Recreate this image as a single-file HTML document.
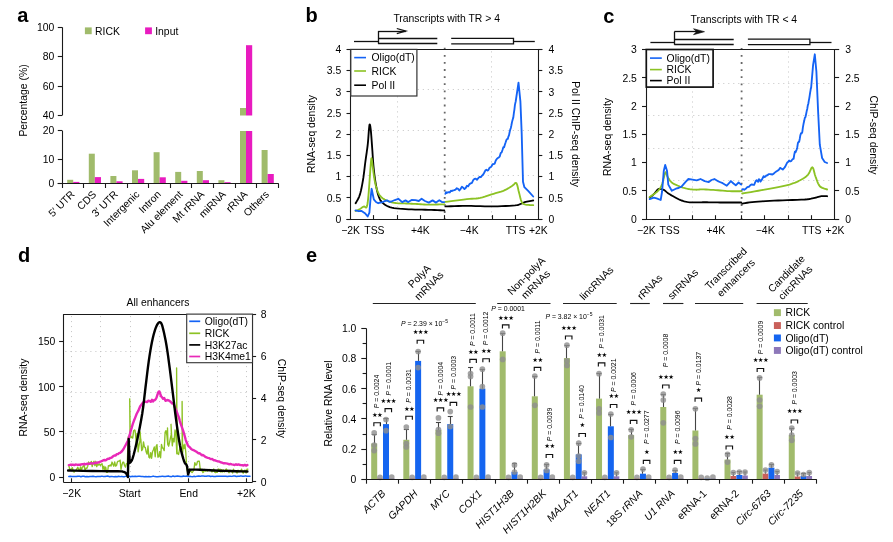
<!DOCTYPE html>
<html><head><meta charset="utf-8"><title>Figure</title>
<style>html,body{margin:0;padding:0;background:#fff;}svg{display:block;will-change:transform;}</style></head>
<body><svg width="893" height="542" viewBox="0 0 893 542" font-family="'Liberation Sans', Arial, Helvetica, sans-serif">
<rect width="893" height="542" fill="#fff"/>
<text x="17.3" y="22" font-size="20" font-weight="bold" fill="#000">a</text>
<rect x="67.2" y="179.8" width="6" height="3.6" fill="#a0bb6b"/>
<rect x="73.2" y="181.9" width="6.2" height="1.5" fill="#e81bbf"/>
<rect x="88.8" y="153.7" width="6" height="29.7" fill="#a0bb6b"/>
<rect x="94.8" y="177.1" width="6.2" height="6.3" fill="#e81bbf"/>
<rect x="110.4" y="176" width="6" height="7.4" fill="#a0bb6b"/>
<rect x="116.4" y="181.3" width="6.2" height="2.1" fill="#e81bbf"/>
<rect x="132" y="170.3" width="6" height="13.1" fill="#a0bb6b"/>
<rect x="138" y="178.9" width="6.2" height="4.5" fill="#e81bbf"/>
<rect x="153.6" y="152.2" width="6" height="31.2" fill="#a0bb6b"/>
<rect x="159.6" y="177.3" width="6.2" height="6.1" fill="#e81bbf"/>
<rect x="175.2" y="171.9" width="6" height="11.5" fill="#a0bb6b"/>
<rect x="181.2" y="180.8" width="6.2" height="2.6" fill="#e81bbf"/>
<rect x="196.8" y="171" width="6" height="12.4" fill="#a0bb6b"/>
<rect x="202.8" y="180.2" width="6.2" height="3.2" fill="#e81bbf"/>
<rect x="218.4" y="180.2" width="6" height="3.2" fill="#a0bb6b"/>
<rect x="224.4" y="182.2" width="6.2" height="1.2" fill="#e81bbf"/>
<rect x="240" y="131" width="6" height="52.4" fill="#a0bb6b"/>
<rect x="246" y="131" width="6.2" height="52.4" fill="#e81bbf"/>
<rect x="240" y="108" width="6" height="7.5" fill="#a0bb6b"/>
<rect x="246" y="45.2" width="6.2" height="70.3" fill="#e81bbf"/>
<rect x="261.6" y="150" width="6" height="33.4" fill="#a0bb6b"/>
<rect x="267.6" y="174" width="6.2" height="9.4" fill="#e81bbf"/>
<line x1="62.5" y1="27.3" x2="62.5" y2="115.3" stroke="#1a1a1a" stroke-width="1.1"/>
<line x1="62.5" y1="130.7" x2="62.5" y2="183.4" stroke="#1a1a1a" stroke-width="1.1"/>
<line x1="57.7" y1="183.5" x2="278.6" y2="183.5" stroke="#1a1a1a" stroke-width="1.1"/>
<line x1="57.8" y1="27.5" x2="62.3" y2="27.5" stroke="#1a1a1a" stroke-width="1.1"/>
<text x="54.4" y="31" font-size="10.4" text-anchor="end">100</text>
<line x1="57.8" y1="56.5" x2="62.3" y2="56.5" stroke="#1a1a1a" stroke-width="1.1"/>
<text x="54.4" y="60.3" font-size="10.4" text-anchor="end">80</text>
<line x1="57.8" y1="86.5" x2="62.3" y2="86.5" stroke="#1a1a1a" stroke-width="1.1"/>
<text x="54.4" y="89.7" font-size="10.4" text-anchor="end">60</text>
<line x1="57.8" y1="115.5" x2="62.3" y2="115.5" stroke="#1a1a1a" stroke-width="1.1"/>
<text x="54.4" y="119" font-size="10.4" text-anchor="end">40</text>
<line x1="57.8" y1="130.5" x2="62.3" y2="130.5" stroke="#1a1a1a" stroke-width="1.1"/>
<text x="54.4" y="134.4" font-size="10.4" text-anchor="end">20</text>
<line x1="57.8" y1="159.5" x2="62.3" y2="159.5" stroke="#1a1a1a" stroke-width="1.1"/>
<text x="54.4" y="162.9" font-size="10.4" text-anchor="end">10</text>
<line x1="57.8" y1="183.5" x2="62.3" y2="183.5" stroke="#1a1a1a" stroke-width="1.1"/>
<text x="54.4" y="187.1" font-size="10.4" text-anchor="end">0</text>
<line x1="62.5" y1="183.4" x2="62.5" y2="188" stroke="#1a1a1a" stroke-width="1.1"/>
<line x1="83.5" y1="183.4" x2="83.5" y2="188" stroke="#1a1a1a" stroke-width="1.1"/>
<line x1="105.5" y1="183.4" x2="105.5" y2="188" stroke="#1a1a1a" stroke-width="1.1"/>
<line x1="127.5" y1="183.4" x2="127.5" y2="188" stroke="#1a1a1a" stroke-width="1.1"/>
<line x1="148.5" y1="183.4" x2="148.5" y2="188" stroke="#1a1a1a" stroke-width="1.1"/>
<line x1="170.5" y1="183.4" x2="170.5" y2="188" stroke="#1a1a1a" stroke-width="1.1"/>
<line x1="191.5" y1="183.4" x2="191.5" y2="188" stroke="#1a1a1a" stroke-width="1.1"/>
<line x1="213.5" y1="183.4" x2="213.5" y2="188" stroke="#1a1a1a" stroke-width="1.1"/>
<line x1="235.5" y1="183.4" x2="235.5" y2="188" stroke="#1a1a1a" stroke-width="1.1"/>
<line x1="256.5" y1="183.4" x2="256.5" y2="188" stroke="#1a1a1a" stroke-width="1.1"/>
<line x1="278.5" y1="183.4" x2="278.5" y2="188" stroke="#1a1a1a" stroke-width="1.1"/>
<rect x="84.9" y="27.4" width="6.8" height="6.8" fill="#a0bb6b"/>
<text x="95" y="34.6" font-size="10.4">RICK</text>
<rect x="145.1" y="27.4" width="6.8" height="6.8" fill="#e81bbf"/>
<text x="155.2" y="34.6" font-size="10.4">Input</text>
<text x="27" y="100.5" font-size="10.4" text-anchor="middle" transform="rotate(-90 27 100.5)">Percentage (%)</text>
<text x="75.3" y="195" font-size="10.4" text-anchor="end" transform="rotate(-45 75.3 195)">5′ UTR</text>
<text x="96.9" y="195" font-size="10.4" text-anchor="end" transform="rotate(-45 96.9 195)">CDS</text>
<text x="118.5" y="195" font-size="10.4" text-anchor="end" transform="rotate(-45 118.5 195)">3′ UTR</text>
<text x="140.1" y="195" font-size="10.4" text-anchor="end" transform="rotate(-45 140.1 195)">Intergenic</text>
<text x="161.7" y="195" font-size="10.4" text-anchor="end" transform="rotate(-45 161.7 195)">Intron</text>
<text x="183.3" y="195" font-size="10.4" text-anchor="end" transform="rotate(-45 183.3 195)">Alu element</text>
<text x="204.9" y="195" font-size="10.4" text-anchor="end" transform="rotate(-45 204.9 195)">Mt rRNA</text>
<text x="226.5" y="195" font-size="10.4" text-anchor="end" transform="rotate(-45 226.5 195)">miRNA</text>
<text x="248.1" y="195" font-size="10.4" text-anchor="end" transform="rotate(-45 248.1 195)">rRNA</text>
<text x="269.7" y="195" font-size="10.4" text-anchor="end" transform="rotate(-45 269.7 195)">Others</text>
<text x="305.6" y="21.8" font-size="20" font-weight="bold" fill="#000">b</text>
<line x1="352.8" y1="89.5" x2="536" y2="89.5" stroke="#c4c4c4" stroke-width="1" stroke-dasharray="1,4"/>
<line x1="352.8" y1="130.5" x2="536" y2="130.5" stroke="#c4c4c4" stroke-width="1" stroke-dasharray="1,4"/>
<line x1="352.8" y1="175.5" x2="536" y2="175.5" stroke="#c4c4c4" stroke-width="1" stroke-dasharray="1,4"/>
<line x1="397.5" y1="51.4" x2="397.5" y2="217.1" stroke="#c4c4c4" stroke-width="1" stroke-dasharray="1,4"/>
<line x1="491.5" y1="51.4" x2="491.5" y2="217.1" stroke="#c4c4c4" stroke-width="1" stroke-dasharray="1,4"/>
<line x1="444.7" y1="47.8" x2="444.7" y2="219.1" stroke="#666" stroke-width="1.8" stroke-dasharray="1.8,5.3"/>
<polyline points="355.6,203.3 356.07,202.46 356.73,201.36 357.5,200.03 358.32,198.49 359.11,196.77 359.8,194.9 360.4,192.82 360.98,190.49 361.52,187.99 362.04,185.36 362.54,182.68 363,180 363.44,177.19 363.84,174.17 364.23,171.1 364.58,168.11 364.9,165.37 365.2,163 365.45,161.13 365.66,159.65 365.84,158.41 366.01,157.24 366.19,155.99 366.4,154.5 366.64,152.79 366.89,150.98 367.16,149.09 367.42,147.13 367.67,145.1 367.9,143 368.11,140.7 368.31,138.17 368.49,135.57 368.67,133.06 368.84,130.82 369,129 369.15,127.56 369.28,126.35 369.4,125.4 369.52,124.74 369.65,124.4 369.8,124.4 369.96,124.76 370.14,125.44 370.32,126.45 370.51,127.76 370.7,129.34 370.9,131.2 371.1,133.42 371.31,136.03 371.53,138.93 371.75,142 371.98,145.13 372.2,148.2 372.42,151.29 372.63,154.49 372.84,157.76 373.07,161.02 373.32,164.22 373.6,167.3 373.91,170.29 374.24,173.25 374.59,176.14 374.97,178.95 375.37,181.65 375.8,184.2 376.25,186.65 376.72,189.01 377.22,191.26 377.74,193.37 378.3,195.29 378.9,197 379.5,198.45 380.09,199.66 380.71,200.68 381.41,201.59 382.23,202.44 383.2,203.3 384.28,204.16 385.41,204.98 386.66,205.74 388.09,206.43 389.75,207.06 391.7,207.6 394,208.05 396.61,208.4 399.46,208.69 402.46,208.92 405.53,209.12 408.6,209.3 411.75,209.45 415.06,209.55 418.45,209.62 421.83,209.67 425.1,209.72 428.2,209.8 431.27,209.9 434.42,210.01 437.47,210.13 440.26,210.24 442.59,210.33 444.3,210.4" fill="none" stroke="#000" stroke-width="1.85" stroke-linejoin="round" stroke-linecap="round" />
<polyline points="445.4,206.4 447.67,206.33 450.75,206.23 454.43,206.12 458.47,206.01 462.67,205.93 466.8,205.9 471.02,205.94 475.53,206.05 480.2,206.18 484.87,206.31 489.38,206.39 493.6,206.4 497.66,206.32 501.73,206.19 505.64,206.02 509.25,205.82 512.42,205.61 515,205.4 516.83,205.2 517.99,204.99 518.71,204.77 519.2,204.53 519.69,204.28 520.4,204 521.26,203.68 522.09,203.33 522.92,202.95 523.77,202.57 524.69,202.22 525.7,201.9 526.91,201.61 528.31,201.33 529.78,201.07 531.17,200.84 532.36,200.64 533.2,200.5" fill="none" stroke="#000" stroke-width="1.85" stroke-linejoin="round" stroke-linecap="round" />
<polyline points="355.5,211 356,210.79 356.69,210.5 357.51,210.16 358.39,209.78 359.24,209.39 360,209 360.69,208.58 361.36,208.09 362.01,207.59 362.63,207.12 363.23,206.74 363.8,206.5 364.34,206.53 364.85,206.82 365.34,207.2 365.79,207.49 366.21,207.51 366.6,207.1 366.93,206.32 367.22,205.33 367.47,204.07 367.7,202.5 367.94,200.56 368.2,198.2 368.49,195.15 368.79,191.4 369.1,187.29 369.4,183.14 369.67,179.3 369.9,176.1 370.09,173.56 370.23,171.43 370.36,169.59 370.47,167.97 370.58,166.47 370.7,165 370.83,163.46 370.96,161.91 371.09,160.48 371.22,159.3 371.36,158.5 371.5,158.2 371.64,158.43 371.77,159.1 371.9,160.14 372.06,161.5 372.25,163.14 372.5,165 372.81,167.26 373.16,170.01 373.56,173.03 373.98,176.11 374.43,179.04 374.9,181.6 375.39,183.83 375.89,185.91 376.42,187.84 376.99,189.62 377.58,191.24 378.2,192.7 378.84,193.97 379.5,195.03 380.19,195.94 380.92,196.74 381.72,197.48 382.6,198.2 383.57,198.9 384.63,199.52 385.74,200.09 386.91,200.6 388.1,201.07 389.3,201.5 390.51,201.89 391.74,202.24 393,202.54 394.29,202.8 395.62,203.02 397,203.2 398.41,203.33 399.86,203.4 401.34,203.42 402.87,203.44 404.46,203.45 406.1,203.5 407.82,203.57 409.62,203.65 411.48,203.73 413.36,203.82 415.24,203.91 417.1,204 418.89,204.1 420.61,204.23 422.33,204.35 424.13,204.46 426.06,204.55 428.2,204.6 430.78,204.6 433.79,204.56 436.94,204.49 439.94,204.41 442.49,204.34 444.3,204.3" fill="none" stroke="#8cc224" stroke-width="1.85" stroke-linejoin="round" stroke-linecap="round" />
<polyline points="445.4,201.9 447.82,201.59 451.24,201.15 455.26,200.63 459.47,200.1 463.45,199.6 466.8,199.2 469.5,198.93 471.86,198.77 474,198.64 476.03,198.49 478.06,198.26 480.2,197.9 482.46,197.37 484.77,196.71 487.07,195.98 489.33,195.22 491.52,194.48 493.6,193.8 495.57,193.21 497.47,192.66 499.29,192.13 501.03,191.6 502.7,191.03 504.3,190.4 505.84,189.68 507.31,188.89 508.72,188.06 510.03,187.24 511.23,186.47 512.3,185.8 513.21,185.1 513.98,184.31 514.63,183.58 515.21,183.03 515.75,182.83 516.3,183.1 516.83,183.97 517.3,185.34 517.73,187.04 518.15,188.92 518.57,190.79 519,192.5 519.43,194.14 519.85,195.88 520.27,197.62 520.7,199.26 521.17,200.72 521.7,201.9 522.25,202.76 522.81,203.38 523.4,203.81 524.06,204.11 524.82,204.35 525.7,204.6 526.83,204.82 528.22,204.95 529.7,205.02 531.13,205.05 532.34,205.07 533.2,205.1" fill="none" stroke="#8cc224" stroke-width="1.85" stroke-linejoin="round" stroke-linecap="round" />
<polyline points="355.5,210.4 358.5,211.2 361.6,211 364.9,213.2 367.7,216.5 369.4,212.6 370.6,198 371.6,188.8 372.7,194 373.8,199.3 376,202 378.2,203.2 380.4,202.5 382.6,202.1 385,201 387.1,200.4 389.3,201.8 391.5,201.5 394.8,200 398.3,198.8 402.2,202.1 405.5,200.4 408.3,202.1 411.6,199.9 415.5,200.2 418.8,201 421.6,198.8 424.9,201 428.8,202.6 432.6,200.4 436,202.6 439.3,200.2 442,202.1 444.3,202.1" fill="none" stroke="#1463f5" stroke-width="1.85" stroke-linejoin="round" stroke-linecap="round" />
<polyline points="445.4,193.8 445.99,192.14 446.75,193.07 447.66,192.34 448.67,192.07 449.77,192.45 450.91,190.77 452.07,191.06 453.2,190.39 454.34,190.06 455.55,189.54 456.79,188.27 458.06,188.9 459.35,190.5 460.65,188.83 461.93,186.8 463.2,187.7 464.45,189.05 465.7,188.01 466.95,185.77 468.2,186.31 469.45,184.1 470.7,183.43 471.95,182.89 473.2,180.17 474.46,178.89 475.74,178.57 477.02,179.75 478.31,178.2 479.57,176.94 480.82,177.22 482.03,175.61 483.2,174.53 484.32,172.51 485.39,170.31 486.44,169.77 487.46,170.6 488.46,169.97 489.46,167.9 490.47,167.31 491.5,166.37 492.55,164.28 493.61,164.07 494.69,163.61 495.76,160.52 496.81,158.9 497.84,158.06 498.84,157.47 499.8,156.35 500.72,153.07 501.61,152.52 502.47,150.02 503.31,147.15 504.12,147.29 504.9,144.57 505.66,142.32 506.4,139.95 507.11,138.89 507.78,138.88 508.42,136.6 509.04,135.07 509.65,132.03 510.24,129.63 510.82,128 511.4,125.28 512,122.12 512.62,119.84 513.25,117.76 513.86,113.15 514.43,109.27 514.94,104.9 515.37,102.86 515.7,101.5 518.5,82.7 520.4,101.4 521.7,133.6 523,181.8 524.4,187.2 528.4,191.2 533.2,196.5" fill="none" stroke="#1463f5" stroke-width="1.85" stroke-linejoin="round" stroke-linecap="round" />
<line x1="350.8" y1="49.5" x2="542.3" y2="49.5" stroke="#1a1a1a" stroke-width="1.1"/>
<line x1="350.5" y1="49.4" x2="350.5" y2="219.1" stroke="#1a1a1a" stroke-width="1.1"/>
<line x1="538.5" y1="49.4" x2="538.5" y2="219.1" stroke="#1a1a1a" stroke-width="1.1"/>
<line x1="346.5" y1="219.5" x2="542.3" y2="219.5" stroke="#1a1a1a" stroke-width="1.1"/>
<line x1="346.5" y1="219.5" x2="350.8" y2="219.5" stroke="#1a1a1a" stroke-width="1.1"/>
<line x1="538" y1="219.5" x2="542.3" y2="219.5" stroke="#1a1a1a" stroke-width="1.1"/>
<text x="341.2" y="222.8" font-size="10.4" text-anchor="end">0</text>
<text x="548.6" y="222.8" font-size="10.4">0</text>
<line x1="346.5" y1="197.5" x2="350.8" y2="197.5" stroke="#1a1a1a" stroke-width="1.1"/>
<line x1="538" y1="197.5" x2="542.3" y2="197.5" stroke="#1a1a1a" stroke-width="1.1"/>
<text x="341.2" y="201.58" font-size="10.4" text-anchor="end">0.5</text>
<text x="548.6" y="201.58" font-size="10.4">0.5</text>
<line x1="346.5" y1="176.5" x2="350.8" y2="176.5" stroke="#1a1a1a" stroke-width="1.1"/>
<line x1="538" y1="176.5" x2="542.3" y2="176.5" stroke="#1a1a1a" stroke-width="1.1"/>
<text x="341.2" y="180.37" font-size="10.4" text-anchor="end">1</text>
<text x="548.6" y="180.37" font-size="10.4">1</text>
<line x1="346.5" y1="155.5" x2="350.8" y2="155.5" stroke="#1a1a1a" stroke-width="1.1"/>
<line x1="538" y1="155.5" x2="542.3" y2="155.5" stroke="#1a1a1a" stroke-width="1.1"/>
<text x="341.2" y="159.15" font-size="10.4" text-anchor="end">1.5</text>
<text x="548.6" y="159.15" font-size="10.4">1.5</text>
<line x1="346.5" y1="134.5" x2="350.8" y2="134.5" stroke="#1a1a1a" stroke-width="1.1"/>
<line x1="538" y1="134.5" x2="542.3" y2="134.5" stroke="#1a1a1a" stroke-width="1.1"/>
<text x="341.2" y="137.94" font-size="10.4" text-anchor="end">2</text>
<text x="548.6" y="137.94" font-size="10.4">2</text>
<line x1="346.5" y1="113.5" x2="350.8" y2="113.5" stroke="#1a1a1a" stroke-width="1.1"/>
<line x1="538" y1="113.5" x2="542.3" y2="113.5" stroke="#1a1a1a" stroke-width="1.1"/>
<text x="341.2" y="116.72" font-size="10.4" text-anchor="end">2.5</text>
<text x="548.6" y="116.72" font-size="10.4">2.5</text>
<line x1="346.5" y1="91.5" x2="350.8" y2="91.5" stroke="#1a1a1a" stroke-width="1.1"/>
<line x1="538" y1="91.5" x2="542.3" y2="91.5" stroke="#1a1a1a" stroke-width="1.1"/>
<text x="341.2" y="95.51" font-size="10.4" text-anchor="end">3</text>
<text x="548.6" y="95.51" font-size="10.4">3</text>
<line x1="346.5" y1="70.5" x2="350.8" y2="70.5" stroke="#1a1a1a" stroke-width="1.1"/>
<line x1="538" y1="70.5" x2="542.3" y2="70.5" stroke="#1a1a1a" stroke-width="1.1"/>
<text x="341.2" y="74.3" font-size="10.4" text-anchor="end">3.5</text>
<text x="548.6" y="74.3" font-size="10.4">3.5</text>
<line x1="346.5" y1="49.5" x2="350.8" y2="49.5" stroke="#1a1a1a" stroke-width="1.1"/>
<line x1="538" y1="49.5" x2="542.3" y2="49.5" stroke="#1a1a1a" stroke-width="1.1"/>
<text x="341.2" y="53.08" font-size="10.4" text-anchor="end">4</text>
<text x="548.6" y="53.08" font-size="10.4">4</text>
<line x1="373.5" y1="219.1" x2="373.5" y2="215.1" stroke="#1a1a1a" stroke-width="1.1"/>
<line x1="397.5" y1="219.1" x2="397.5" y2="215.1" stroke="#1a1a1a" stroke-width="1.1"/>
<line x1="420.5" y1="219.1" x2="420.5" y2="215.1" stroke="#1a1a1a" stroke-width="1.1"/>
<line x1="444.5" y1="219.1" x2="444.5" y2="215.1" stroke="#1a1a1a" stroke-width="1.1"/>
<line x1="468.5" y1="219.1" x2="468.5" y2="215.1" stroke="#1a1a1a" stroke-width="1.1"/>
<line x1="492.5" y1="219.1" x2="492.5" y2="215.1" stroke="#1a1a1a" stroke-width="1.1"/>
<line x1="515.5" y1="219.1" x2="515.5" y2="215.1" stroke="#1a1a1a" stroke-width="1.1"/>
<text x="350.6" y="233.9" font-size="10.4" text-anchor="middle">−2K</text>
<text x="374.4" y="233.9" font-size="10.4" text-anchor="middle">TSS</text>
<text x="420.4" y="233.9" font-size="10.4" text-anchor="middle">+4K</text>
<text x="469.2" y="233.9" font-size="10.4" text-anchor="middle">−4K</text>
<text x="515.6" y="233.9" font-size="10.4" text-anchor="middle">TTS</text>
<text x="538.3" y="233.9" font-size="10.4" text-anchor="middle">+2K</text>
<rect x="350.8" y="49.4" width="66.1" height="46.6" fill="#fff" stroke="#333" stroke-width="1.2"/>
<line x1="354.2" y1="57.6" x2="366" y2="57.6" stroke="#1463f5" stroke-width="1.6"/>
<text x="371.5" y="61.3" font-size="10.4">Oligo(dT)</text>
<line x1="354.2" y1="71" x2="366" y2="71" stroke="#8cc224" stroke-width="1.6"/>
<text x="371.5" y="74.7" font-size="10.4">RICK</text>
<line x1="354.2" y1="85.2" x2="366" y2="85.2" stroke="#000" stroke-width="1.6"/>
<text x="371.5" y="88.9" font-size="10.4">Pol II</text>
<line x1="354" y1="41.5" x2="378.1" y2="41.5" stroke="#111" stroke-width="1.3"/>
<line x1="378.5" y1="31.1" x2="378.5" y2="43.8" stroke="#111" stroke-width="1.3"/>
<line x1="378.1" y1="38.5" x2="437.3" y2="38.5" stroke="#111" stroke-width="1.3"/>
<line x1="378.1" y1="43.5" x2="437.3" y2="43.5" stroke="#111" stroke-width="1.3"/>
<line x1="378.1" y1="31.5" x2="405.8" y2="31.5" stroke="#111" stroke-width="1.3"/>
<path d="M396.8,28.5 L405.8,31.1 L396.8,33.7" fill="none" stroke="#111" stroke-width="1.3" />
<path d="M451.2,38.4 L513.5,38.4 L513.5,43.8 L451.2,43.8" fill="none" stroke="#111" stroke-width="1.3" />
<line x1="513.5" y1="41.5" x2="534.8" y2="41.5" stroke="#111" stroke-width="1.3"/>
<text x="393.4" y="22.4" font-size="10.4">Transcripts with TR &gt; 4</text>
<text x="314.5" y="134" font-size="10.4" text-anchor="middle" transform="rotate(-90 314.5 134)">RNA-seq density</text>
<text x="572" y="134" font-size="10.4" text-anchor="middle" transform="rotate(90 572 134)">Pol II ChIP-seq density</text>
<text x="603.3" y="22.8" font-size="20" font-weight="bold" fill="#000">c</text>
<line x1="648.3" y1="83.5" x2="832.8" y2="83.5" stroke="#c4c4c4" stroke-width="1" stroke-dasharray="1,4"/>
<line x1="648.3" y1="115.5" x2="832.8" y2="115.5" stroke="#c4c4c4" stroke-width="1" stroke-dasharray="1,4"/>
<line x1="648.3" y1="148.5" x2="832.8" y2="148.5" stroke="#c4c4c4" stroke-width="1" stroke-dasharray="1,4"/>
<line x1="648.3" y1="180.5" x2="832.8" y2="180.5" stroke="#c4c4c4" stroke-width="1" stroke-dasharray="1,4"/>
<line x1="692.5" y1="51.5" x2="692.5" y2="217.2" stroke="#c4c4c4" stroke-width="1" stroke-dasharray="1,4"/>
<line x1="788.5" y1="51.5" x2="788.5" y2="217.2" stroke="#c4c4c4" stroke-width="1" stroke-dasharray="1,4"/>
<line x1="741.6" y1="47.9" x2="741.6" y2="219.2" stroke="#666" stroke-width="1.8" stroke-dasharray="1.8,5.3"/>
<polyline points="649.7,197.7 650.14,197.33 650.76,196.84 651.49,196.25 652.27,195.59 653.06,194.9 653.8,194.2 654.51,193.42 655.25,192.53 655.99,191.61 656.71,190.72 657.39,189.96 658,189.4 658.53,189.06 658.98,188.89 659.39,188.83 659.8,188.86 660.22,188.93 660.7,189 661.24,189.08 661.81,189.19 662.4,189.35 663,189.55 663.61,189.8 664.2,190.1 664.76,190.46 665.29,190.89 665.83,191.36 666.39,191.86 667,192.38 667.7,192.9 668.47,193.42 669.28,193.96 670.15,194.51 671.09,195.09 672.1,195.68 673.2,196.3 674.42,196.98 675.76,197.73 677.18,198.5 678.63,199.25 680.08,199.93 681.5,200.5 682.86,200.96 684.2,201.34 685.53,201.66 686.89,201.92 688.31,202.13 689.8,202.3 691.41,202.4 693.11,202.43 694.87,202.41 696.63,202.37 698.36,202.32 700,202.3 701.49,202.3 702.85,202.29 704.17,202.29 705.54,202.29 707.05,202.29 708.8,202.3 710.77,202.32 712.89,202.36 715.14,202.4 717.54,202.44 720.06,202.48 722.7,202.5 725.73,202.51 729.21,202.51 732.82,202.51 736.23,202.51 739.13,202.5 741.2,202.5" fill="none" stroke="#000" stroke-width="1.85" stroke-linejoin="round" stroke-linecap="round" />
<polyline points="742.2,203.6 743.47,203.4 745.13,203.11 747.15,202.78 749.49,202.43 752.12,202.09 755,201.8 758.23,201.55 761.84,201.32 765.74,201.1 769.83,200.89 774.02,200.69 778.2,200.5 782.63,200.32 787.43,200.17 792.33,200.03 797.04,199.87 801.29,199.7 804.8,199.5 807.47,199.26 809.49,198.98 811.05,198.69 812.33,198.39 813.52,198.09 814.8,197.8 816.11,197.51 817.29,197.2 818.37,196.89 819.39,196.61 820.39,196.37 821.4,196.2 822.47,196.11 823.58,196.08 824.66,196.1 825.66,196.14 826.49,196.18 827.1,196.2" fill="none" stroke="#000" stroke-width="1.85" stroke-linejoin="round" stroke-linecap="round" />
<polyline points="649.7,197 650.14,196.7 650.76,196.3 651.49,195.81 652.27,195.28 653.06,194.73 653.8,194.2 654.5,193.68 655.22,193.16 655.94,192.62 656.66,192.06 657.35,191.45 658,190.8 658.63,190.11 659.24,189.39 659.83,188.63 660.39,187.81 660.92,186.94 661.4,186 661.83,184.96 662.2,183.83 662.53,182.63 662.85,181.41 663.17,180.19 663.5,179 663.85,177.71 664.2,176.26 664.55,174.81 664.9,173.52 665.25,172.57 665.6,172.1 665.93,172.23 666.23,172.84 666.53,173.77 666.85,174.89 667.23,176.01 667.7,177 668.24,177.91 668.81,178.86 669.45,179.84 670.15,180.79 670.93,181.69 671.8,182.5 672.77,183.21 673.84,183.84 674.99,184.42 676.19,184.97 677.44,185.49 678.7,186 680,186.52 681.36,187.02 682.76,187.51 684.18,187.96 685.6,188.36 687,188.7 688.4,188.98 689.83,189.21 691.26,189.39 692.66,189.53 694.02,189.63 695.3,189.7 696.42,189.71 697.36,189.66 698.26,189.57 699.23,189.47 700.4,189.41 701.9,189.4 703.78,189.45 705.96,189.54 708.34,189.66 710.83,189.8 713.31,189.95 715.7,190.1 718.04,190.27 720.41,190.48 722.79,190.69 725.13,190.9 727.42,191.08 729.6,191.2 731.8,191.26 734.07,191.28 736.27,191.27 738.28,191.24 739.96,191.21 741.2,191.2" fill="none" stroke="#8cc224" stroke-width="1.85" stroke-linejoin="round" stroke-linecap="round" />
<polyline points="742.2,193.5 744.34,193.14 747.33,192.63 750.86,192.04 754.62,191.4 758.3,190.77 761.6,190.2 764.57,189.69 767.46,189.19 770.28,188.7 773.01,188.21 775.66,187.71 778.2,187.2 780.65,186.68 783,186.16 785.26,185.64 787.43,185.09 789.51,184.52 791.5,183.9 793.4,183.24 795.2,182.53 796.92,181.8 798.54,181.04 800.07,180.28 801.5,179.5 802.82,178.74 804.04,177.99 805.16,177.23 806.2,176.43 807.17,175.56 808.1,174.6 808.96,173.33 809.75,171.74 810.48,170.09 811.15,168.62 811.79,167.61 812.4,167.3 812.96,167.83 813.44,169.03 813.89,170.67 814.34,172.55 814.83,174.47 815.4,176.2 816.02,177.88 816.66,179.7 817.33,181.55 818.07,183.32 818.88,184.91 819.8,186.2 820.93,187.18 822.29,187.92 823.72,188.47 825.1,188.89 826.27,189.22 827.1,189.5" fill="none" stroke="#8cc224" stroke-width="1.85" stroke-linejoin="round" stroke-linecap="round" />
<polyline points="649.7,199.1 653.8,197.7 656.6,198.4 660.7,200 662.1,191.5 663.8,170.7 665.2,164.9 667,170.7 668.3,184.6 671.8,190.8 675.9,188.7 678.5,188 681.5,186.6 685.6,181.8 688.4,179 692.5,179.7 696.7,180.4 700.5,179 704.7,181.1 708.8,182.1 711.5,180 714.4,179 718.5,181.5 722.7,183.2 726.8,185.7 730.9,181.1 733.5,183.5 735.8,185.3 738.6,182.5 741.2,184.6" fill="none" stroke="#1463f5" stroke-width="1.85" stroke-linejoin="round" stroke-linecap="round" />
<polyline points="742.2,189.4 743.07,189.07 744.26,189.85 745.68,188.78 747.24,187.15 748.85,186.76 750.42,185.06 751.87,184.35 753.1,184.8 754.13,184.91 755.05,182.63 755.89,180.92 756.66,180.14 757.41,181.06 758.14,181.81 758.9,179.13 759.7,179.81 760.51,181.58 761.29,180.38 762.06,179.34 762.84,177.77 763.65,176.11 764.5,177.01 765.41,176.55 766.4,175.38 767.48,175.26 768.65,174.1 769.87,174.09 771.14,174.23 772.44,174.48 773.74,173.63 775.04,172.37 776.3,171.43 777.57,170.75 778.87,169.71 780.19,167.88 781.51,168.67 782.79,169.49 784.04,168.2 785.21,166.62 786.3,164.36 787.3,162.43 788.23,161.71 789.09,160.57 789.91,161.38 790.69,161.25 791.44,160.85 792.17,159.62 792.9,159.04 793.6,158.74 794.26,154.58 794.89,151.59 795.5,152.38 796.1,150.98 796.69,149.56 797.29,147.22 797.9,143.04 798.53,141.98 799.15,141.78 799.78,138.71 800.41,134.98 801.03,133.18 801.66,133.4 802.28,132.05 802.9,127.41 803.53,123.81 804.17,121.06 804.82,117.86 805.46,117.08 806.08,114.22 806.69,111.08 807.26,108.96 807.8,105.39 808.31,103.77 808.81,100.66 809.3,98.05 809.76,95.15 810.17,92.36 810.54,90.31 810.86,88.16 811.1,88.1 813.1,64.9 814.8,54.3 816.4,71.6 818.1,111.4 819.8,144.7 822.1,158 824.7,162 827.1,163" fill="none" stroke="#1463f5" stroke-width="1.85" stroke-linejoin="round" stroke-linecap="round" />
<line x1="646.3" y1="49.5" x2="839.1" y2="49.5" stroke="#1a1a1a" stroke-width="1.1"/>
<line x1="646.5" y1="49.5" x2="646.5" y2="219.2" stroke="#1a1a1a" stroke-width="1.1"/>
<line x1="834.5" y1="49.5" x2="834.5" y2="219.2" stroke="#1a1a1a" stroke-width="1.1"/>
<line x1="642" y1="219.5" x2="839.1" y2="219.5" stroke="#1a1a1a" stroke-width="1.1"/>
<line x1="642" y1="219.5" x2="646.3" y2="219.5" stroke="#1a1a1a" stroke-width="1.1"/>
<line x1="834.8" y1="219.5" x2="839.1" y2="219.5" stroke="#1a1a1a" stroke-width="1.1"/>
<text x="636.9" y="222.9" font-size="10.4" text-anchor="end">0</text>
<text x="845.2" y="222.9" font-size="10.4">0</text>
<line x1="642" y1="190.5" x2="646.3" y2="190.5" stroke="#1a1a1a" stroke-width="1.1"/>
<line x1="834.8" y1="190.5" x2="839.1" y2="190.5" stroke="#1a1a1a" stroke-width="1.1"/>
<text x="636.9" y="194.65" font-size="10.4" text-anchor="end">0.5</text>
<text x="845.2" y="194.65" font-size="10.4">0.5</text>
<line x1="642" y1="162.5" x2="646.3" y2="162.5" stroke="#1a1a1a" stroke-width="1.1"/>
<line x1="834.8" y1="162.5" x2="839.1" y2="162.5" stroke="#1a1a1a" stroke-width="1.1"/>
<text x="636.9" y="166.4" font-size="10.4" text-anchor="end">1</text>
<text x="845.2" y="166.4" font-size="10.4">1</text>
<line x1="642" y1="134.5" x2="646.3" y2="134.5" stroke="#1a1a1a" stroke-width="1.1"/>
<line x1="834.8" y1="134.5" x2="839.1" y2="134.5" stroke="#1a1a1a" stroke-width="1.1"/>
<text x="636.9" y="138.15" font-size="10.4" text-anchor="end">1.5</text>
<text x="845.2" y="138.15" font-size="10.4">1.5</text>
<line x1="642" y1="106.5" x2="646.3" y2="106.5" stroke="#1a1a1a" stroke-width="1.1"/>
<line x1="834.8" y1="106.5" x2="839.1" y2="106.5" stroke="#1a1a1a" stroke-width="1.1"/>
<text x="636.9" y="109.9" font-size="10.4" text-anchor="end">2</text>
<text x="845.2" y="109.9" font-size="10.4">2</text>
<line x1="642" y1="77.5" x2="646.3" y2="77.5" stroke="#1a1a1a" stroke-width="1.1"/>
<line x1="834.8" y1="77.5" x2="839.1" y2="77.5" stroke="#1a1a1a" stroke-width="1.1"/>
<text x="636.9" y="81.65" font-size="10.4" text-anchor="end">2.5</text>
<text x="845.2" y="81.65" font-size="10.4">2.5</text>
<line x1="642" y1="49.5" x2="646.3" y2="49.5" stroke="#1a1a1a" stroke-width="1.1"/>
<line x1="834.8" y1="49.5" x2="839.1" y2="49.5" stroke="#1a1a1a" stroke-width="1.1"/>
<text x="636.9" y="53.4" font-size="10.4" text-anchor="end">3</text>
<text x="845.2" y="53.4" font-size="10.4">3</text>
<line x1="669.5" y1="219.2" x2="669.5" y2="215.2" stroke="#1a1a1a" stroke-width="1.1"/>
<line x1="692.5" y1="219.2" x2="692.5" y2="215.2" stroke="#1a1a1a" stroke-width="1.1"/>
<line x1="715.5" y1="219.2" x2="715.5" y2="215.2" stroke="#1a1a1a" stroke-width="1.1"/>
<line x1="741.5" y1="219.2" x2="741.5" y2="215.2" stroke="#1a1a1a" stroke-width="1.1"/>
<line x1="764.5" y1="219.2" x2="764.5" y2="215.2" stroke="#1a1a1a" stroke-width="1.1"/>
<line x1="788.5" y1="219.2" x2="788.5" y2="215.2" stroke="#1a1a1a" stroke-width="1.1"/>
<line x1="811.5" y1="219.2" x2="811.5" y2="215.2" stroke="#1a1a1a" stroke-width="1.1"/>
<text x="646.3" y="234" font-size="10.4" text-anchor="middle">−2K</text>
<text x="669.6" y="234" font-size="10.4" text-anchor="middle">TSS</text>
<text x="715.8" y="234" font-size="10.4" text-anchor="middle">+4K</text>
<text x="765.2" y="234" font-size="10.4" text-anchor="middle">−4K</text>
<text x="811.7" y="234" font-size="10.4" text-anchor="middle">TTS</text>
<text x="835" y="234" font-size="10.4" text-anchor="middle">+2K</text>
<rect x="646.3" y="49.5" width="66.8" height="37.6" fill="#fff" stroke="#111" stroke-width="1.7"/>
<line x1="650" y1="58.1" x2="661.8" y2="58.1" stroke="#1463f5" stroke-width="1.6"/>
<text x="666.6" y="61.8" font-size="10.4">Oligo(dT)</text>
<line x1="650" y1="69.6" x2="661.8" y2="69.6" stroke="#8cc224" stroke-width="1.6"/>
<text x="666.6" y="73.3" font-size="10.4">RICK</text>
<line x1="650" y1="80.6" x2="661.8" y2="80.6" stroke="#000" stroke-width="1.6"/>
<text x="666.6" y="84.3" font-size="10.4">Pol II</text>
<line x1="650.4" y1="42.5" x2="674.3" y2="42.5" stroke="#111" stroke-width="1.3"/>
<line x1="674.5" y1="31.7" x2="674.5" y2="44.7" stroke="#111" stroke-width="1.3"/>
<line x1="674.3" y1="39.5" x2="733.7" y2="39.5" stroke="#111" stroke-width="1.3"/>
<line x1="674.3" y1="44.5" x2="733.7" y2="44.5" stroke="#111" stroke-width="1.3"/>
<line x1="674.3" y1="31.5" x2="698.5" y2="31.5" stroke="#111" stroke-width="1.3"/>
<path d="M704.5,31.7 L693.5,28.7 L696.5,31.7 L693.5,34.7 Z" fill="#111" stroke="#111" stroke-width="0.6" />
<path d="M747.9,39.1 L809.9,39.1 L809.9,44.7 L747.9,44.7" fill="none" stroke="#111" stroke-width="1.3" />
<line x1="809.9" y1="42.5" x2="831.5" y2="42.5" stroke="#111" stroke-width="1.3"/>
<text x="690.6" y="23" font-size="10.4">Transcripts with TR &lt; 4</text>
<text x="611" y="137" font-size="10.4" text-anchor="middle" transform="rotate(-90 611 137)">RNA-seq density</text>
<text x="870" y="135" font-size="10.4" text-anchor="middle" transform="rotate(90 870 135)">ChIP-seq density</text>
<text x="18" y="262.1" font-size="20" font-weight="bold" fill="#000">d</text>
<line x1="65.4" y1="351.5" x2="250.5" y2="351.5" stroke="#c4c4c4" stroke-width="1" stroke-dasharray="1,4"/>
<line x1="65.4" y1="392.5" x2="250.5" y2="392.5" stroke="#c4c4c4" stroke-width="1" stroke-dasharray="1,4"/>
<line x1="65.4" y1="433.5" x2="250.5" y2="433.5" stroke="#c4c4c4" stroke-width="1" stroke-dasharray="1,4"/>
<line x1="71.5" y1="316.1" x2="71.5" y2="480.3" stroke="#c4c4c4" stroke-width="1" stroke-dasharray="1,4"/>
<line x1="100.5" y1="316.1" x2="100.5" y2="480.3" stroke="#c4c4c4" stroke-width="1" stroke-dasharray="1,4"/>
<line x1="130.5" y1="316.1" x2="130.5" y2="480.3" stroke="#c4c4c4" stroke-width="1" stroke-dasharray="1,4"/>
<line x1="159.5" y1="316.1" x2="159.5" y2="480.3" stroke="#c4c4c4" stroke-width="1" stroke-dasharray="1,4"/>
<line x1="188.5" y1="316.1" x2="188.5" y2="480.3" stroke="#c4c4c4" stroke-width="1" stroke-dasharray="1,4"/>
<line x1="217.5" y1="316.1" x2="217.5" y2="480.3" stroke="#c4c4c4" stroke-width="1" stroke-dasharray="1,4"/>
<line x1="246.5" y1="316.1" x2="246.5" y2="480.3" stroke="#c4c4c4" stroke-width="1" stroke-dasharray="1,4"/>
<polyline points="68.8,476.5 70.31,476.31 71.82,476.53 73.33,476.4 74.84,476.56 76.35,476.58 77.86,476.18 79.37,476.14 80.88,476.72 82.39,476.31 83.9,476.29 85.41,476.82 86.92,476.45 88.43,476.7 89.94,476.45 91.45,476.56 92.96,476.22 94.47,476.55 95.98,476.71 97.49,476.47 99,476.62 100.51,476.57 102.02,476.14 103.53,476.62 105.04,476.5 106.55,476.3 108.06,476.11 109.57,476.69 111.08,476.41 112.59,476.58 114.1,476.69 115.61,476.57 117.12,476.71 118.63,476.34 120.14,476.63 121.65,476.37 123.16,476.71 124.67,476.67 126.18,476.12 127.69,476.15 129.2,476.2 130.71,476.72 132.22,476.35 133.73,476.48 135.24,476.25 136.75,476.39 138.26,476.31 139.77,476.28 141.28,476.44 142.79,476.44 144.3,476.66 145.81,476.5 147.32,476.67 148.83,476.62 150.34,476.71 151.85,476.48 153.36,476.12 154.87,476.61 156.38,476.68 157.89,476.64 159.4,476.4 160.91,476.5 162.42,476.14 163.93,476.57 165.44,476.39 166.95,476.19 168.46,476.03 169.97,476.58 171.48,476.67 172.99,476.04 174.5,476.54 176.01,476.26 177.52,476.08 179.03,476.17 180.54,476.5 182.05,476.57 183.56,475.99 185.07,476.39 186.58,475.99 188.09,476.46 189.6,476.18 191.11,476.56 192.62,476.63 194.13,476.3 195.64,476.64 197.15,476.15 198.66,475.99 200.17,476.35 201.68,475.95 203.19,476.07 204.7,476.21 206.21,476.35 207.72,476.03 209.23,475.95 210.74,476.52 212.25,476.13 213.76,476.58 215.27,476.54 216.78,476.17 218.29,476.22 219.8,476.26 221.31,476.35 222.82,476.31 224.33,476.28 225.84,476.32 227.35,476.55 228.86,476.24 230.37,476.18 231.88,476.38 233.39,476.04 234.9,476.09 236.41,476.56 237.92,476.23 239.43,476.25 240.94,475.87 242.45,476.15 243.96,476.27 245.47,475.87 246.98,476.29 248.49,476.3 250,476.2" fill="none" stroke="#1463f5" stroke-width="1.5" stroke-linejoin="round" stroke-linecap="round" />
<polyline points="68.8,465.36 69.7,469.28 70.6,469.46 71.5,468.95 72.4,467.69 73.3,471.75 74.2,472.13 75.1,470.44 76,470.51 76.9,468.81 77.8,467.24 78.7,469.43 79.6,470.55 80.5,466.92 81.4,471.15 82.3,467.09 83.2,466.58 84.1,464.82 85,470.36 85.9,468.13 86.8,468.44 87.7,466.25 88.6,462.03 89.5,463.47 90.4,464.18 91.3,461.43 92.2,466.56 93.1,462.7 94,461.29 94.9,465.59 95.8,461.3 96.7,466.68 97.6,463.96 98.5,464.98 99.4,464.09 100.3,465.51 101.2,464.14 102.1,463.75 103,469.62 103.9,466.15 104.8,470.18 105.7,467.03 106.6,472.35 107.5,472.26 108.4,465.69 109.3,465.98 110.2,464.96 111.1,465.97 112,462.05 112.9,464.18 113.8,466.21 114.7,461.9 115.6,466.15 116.5,465.48 117.4,461.92 118.3,461.1 119.2,461.09 120.1,460.1 121,469.43 121.9,464.99 122.8,462.18 123.7,462.14 124.6,465.73 125.5,467.15 126.4,463.72 127.3,463.53 128.2,436.86 129.1,440.22 130,431.27 129.7,398.8 130.2,431.27 130.9,437.85 131.8,436.96 132.7,438.08 133.6,430.57 134.5,430.39 134.5,430 135,430.39 135.4,433.42 136.3,443.26 137.2,433.39 138.1,451.78 139,445.63 139.9,440.88 140.2,432 140.7,440.88 140.8,438.98 141.7,450.61 142.6,449.19 143.5,441.93 144.4,447.17 145.3,447.46 146.2,452.03 147.1,454.13 148,446.01 148.9,457.21 149.8,457.95 150.7,452.62 151.6,458.25 152.5,451.84 153.4,449.72 154.3,446.96 155.2,456.73 156.1,446.26 157,444.68 157.9,457.19 158.8,456.66 159.7,451.71 160.6,457.73 161.5,444.39 162.4,447.89 163.3,448.43 164.2,450.63 165.1,432.4 166,430.68 166.9,435.25 167.8,444.79 167.5,428 168,444.79 168.7,446.22 169.6,442.18 170.5,437.64 171.4,433.79 171,424.3 171.5,433.79 172.3,445.8 173.2,438.44 174.1,441.89 175,429.98 175.9,433.11 176.8,453.75 176.6,368 177.1,453.75 177.7,453.02 178.6,454.48 179.5,449.72 180.4,446.74 181.3,449.38 182.2,453.94 182.1,401.5 182.6,453.94 183.1,444.74 184,448.58 184.9,444.19 185.8,452.56 186.7,468.85 187.6,471.82 188.5,473 189.4,468.9 190.3,471.41 191.2,471.63 192.1,472.55 193,471.37 193.9,469.93 194.8,462.58 195.7,465.02 196.6,464.78 197.5,461.39 198.4,461.22 199.3,461.21 200.2,468.91 201.1,470.77 202,469.42 202.9,472.62 203.8,471.68 204.7,469.36 205.6,471.17 206.5,470.23 207.4,470.97 208.3,469.77 209.2,469.53 210.1,469.61 211,470.46 211.9,471.92 212.8,471.22 213.7,469 214.6,471.93 215.5,472.65 216.4,472.21 217.3,472.28 218.2,468.83 219.1,470.84 220,469.08 220.9,472.16 221.8,469.57 222.7,471.93 223.6,469.91 224.5,471.87 225.4,470.18 226.3,468.98 227.2,470.51 228.1,470.16 229,472.76 229.9,470.1 230.8,471.01 231.7,471.22 232.6,472.97 233.5,469.23 234.4,471.45 235.3,471.04 236.2,472.03 237.1,473.06 238,470.16 238.9,471.88 239.8,471.11 240.7,471.27 241.6,469.08 242.5,472.38 243.4,473.1 244.3,470.36 245.2,470.2 246.1,473.17 247,469.27 247.9,469.13" fill="none" stroke="#8cc224" stroke-width="1.35" stroke-linejoin="round" stroke-linecap="round" />
<polyline points="68.8,465.1 70.19,464.81 71.59,464.71 72.92,464.7 74.25,465.13 75.58,464.54 76.7,464.59 77.82,464.82 78.94,464.59 80.06,464.92 81.12,464.37 82.18,464.21 83.24,464.31 84.3,463.82 85.61,464.37 86.92,463.71 88.23,463.59 89.55,463.74 90.87,463.07 92.19,463.44 93.48,463.44 94.78,462.74 96.08,463.15 97.32,462.47 98.56,462.44 99.8,461.87 101,461.42 102.19,460.91 103.39,460.27 104.55,460 105.71,460.32 106.87,459.4 107.96,458.82 109.05,458.76 110.14,457.96 111.62,457.61 113.1,456.26 114.4,455.46 115.69,455.5 116.84,454.1 117.99,454.1 119.01,453.21 120.04,452.91 121.9,451.24 123.56,449.04 124.99,446.28 126.25,443.96 127.4,441.97 128.37,439.76 129.17,436.31 129.93,433.81 130.8,430.49 131.78,427.54 132.8,423.89 133.92,420.8 135.2,417.62 136.69,413.76 138.36,410.67 140.09,406.56 141.8,404.11 143.52,402.16 145.28,401.66 146.98,402.1 148.5,400.62 149.8,401.23 150.94,401.81 151.99,399.76 153,401.45 153.99,400.28 154.94,400.06 155.81,398.92 156.6,397.46 157.27,395.26 157.84,393.64 158.36,392.17 158.9,391.36 159.41,391.46 159.87,392.46 160.4,394.54 161.1,396.2 161.99,397.35 163.03,398.66 164.19,397.94 165.5,400.84 167.07,400.02 168.86,400.42 170.62,401.71 172.1,403.42 173.18,403.18 174.01,404.91 174.73,406.86 175.5,409.12 176.31,410.57 177.09,412.63 177.9,414.88 178.8,417.19 179.85,421.04 181,424.53 182.15,427.85 183.2,430.8 184.1,433.9 184.92,436.75 185.7,439.82 186.5,442.15 187.25,443.6 187.94,445.54 188.74,446.55 189.8,447.22 191.19,449.01 192.81,449.99 194.6,450.66 196.5,451.8 198.5,453.36 199.56,453.24 200.62,454.14 201.76,455.22 202.89,455.06 204.09,455.85 205.3,456.81 206.61,457.34 207.91,457.82 209.31,458.15 210.71,459.12 212.14,459.01 213.57,460.19 214.99,460.21 216.4,460.96 217.79,461.35 219.18,461.45 220.56,462.24 221.95,462.56 223.34,463.28 224.72,463.3 226.11,463.36 227.5,463.58 228.91,464.3 230.33,463.96 231.76,464.43 233.19,464.6 234.59,464.98 235.99,464.31 237.29,464.87 238.6,464.47 239.88,465.02 241.17,465.12 242.43,465.26 243.69,465.44 244.78,464.84 245.87,465.51 247.4,465.05" fill="none" stroke="#e829b8" stroke-width="2.4" stroke-linejoin="round" stroke-linecap="round" />
<polyline points="68.1,470.5 74.32,470.64 83.23,470.83 92.3,471 101.5,471.11 110.87,471.19 118,471.3 121.43,471.4 122.61,471.53 123.5,471.8 124.68,472.24 125.56,472.83 126.3,473.6 126.98,474.77 127.53,476.13 127.9,477.1 128.7,439 129.7,463 130.18,462.52 130.85,461.91 131.67,460.7 132.6,458.4 133.66,454.74 134.88,450.02 136.15,444.65 137.4,439 138.66,433 139.95,426.5 141.19,419.8 142.3,413.2 143.22,406.75 144.01,400.3 144.74,393.85 145.5,387.4 146.3,380.8 147.1,374.09 147.9,367.59 148.7,361.6 149.5,356.17 150.29,351.14 151.09,346.52 151.9,342.3 152.72,338.47 153.55,335.05 154.38,332.03 155.2,329.4 156.02,327.17 156.84,325.34 157.64,323.92 158.4,322.9 159.1,322.29 159.76,322.09 160.39,322.29 161,322.9 161.55,323.84 162.06,325.14 162.58,326.95 163.2,329.4 163.95,332.6 164.79,336.44 165.66,340.79 166.5,345.5 167.31,350.62 168.11,356.19 168.9,362.07 169.7,368.1 170.5,374.33 171.3,380.8 172.1,387.38 172.9,393.9 173.68,400.35 174.46,406.8 175.25,413.25 176.1,419.7 177.02,426.38 177.99,433.21 178.99,439.73 180,445.5 181.07,450.49 182.18,454.92 183.26,458.66 184.2,461.6 184.99,463.31 185.68,463.99 186.28,464.45 186.8,465.5 187.25,467.6 187.61,470.24 187.9,472.76 188.1,474.5 189.7,469.7 192.2,469.67 195.84,469.64 200,469.7 204.65,469.92 209.83,470.23 215,470.5 219.91,470.69 224.82,470.84 230,471 236.27,471.19 242.8,471.37 247.4,471.5" fill="none" stroke="#000" stroke-width="2.4" stroke-linejoin="round" stroke-linecap="round" />
<line x1="63.4" y1="314.5" x2="252.5" y2="314.5" stroke="#1a1a1a" stroke-width="1.1"/>
<line x1="63.5" y1="314.1" x2="63.5" y2="482.3" stroke="#1a1a1a" stroke-width="1.1"/>
<line x1="252.5" y1="314.1" x2="252.5" y2="482.3" stroke="#1a1a1a" stroke-width="1.1"/>
<line x1="63.4" y1="482.5" x2="252.5" y2="482.5" stroke="#1a1a1a" stroke-width="1.1"/>
<line x1="59.1" y1="477.5" x2="63.4" y2="477.5" stroke="#1a1a1a" stroke-width="1.1"/>
<text x="55.3" y="480.7" font-size="10.4" text-anchor="end">0</text>
<line x1="59.1" y1="431.5" x2="63.4" y2="431.5" stroke="#1a1a1a" stroke-width="1.1"/>
<text x="55.3" y="435.6" font-size="10.4" text-anchor="end">50</text>
<line x1="59.1" y1="386.5" x2="63.4" y2="386.5" stroke="#1a1a1a" stroke-width="1.1"/>
<text x="55.3" y="390.5" font-size="10.4" text-anchor="end">100</text>
<line x1="59.1" y1="341.5" x2="63.4" y2="341.5" stroke="#1a1a1a" stroke-width="1.1"/>
<text x="55.3" y="345.4" font-size="10.4" text-anchor="end">150</text>
<line x1="252.5" y1="481.5" x2="256.1" y2="481.5" stroke="#1a1a1a" stroke-width="1.1"/>
<text x="260.8" y="485.5" font-size="10.4">0</text>
<line x1="252.5" y1="439.5" x2="256.1" y2="439.5" stroke="#1a1a1a" stroke-width="1.1"/>
<text x="260.8" y="443.6" font-size="10.4">2</text>
<line x1="252.5" y1="398.5" x2="256.1" y2="398.5" stroke="#1a1a1a" stroke-width="1.1"/>
<text x="260.8" y="401.7" font-size="10.4">4</text>
<line x1="252.5" y1="356.5" x2="256.1" y2="356.5" stroke="#1a1a1a" stroke-width="1.1"/>
<text x="260.8" y="359.8" font-size="10.4">6</text>
<line x1="252.5" y1="314.5" x2="256.1" y2="314.5" stroke="#1a1a1a" stroke-width="1.1"/>
<text x="260.8" y="317.9" font-size="10.4">8</text>
<line x1="71.5" y1="482.3" x2="71.5" y2="478.3" stroke="#1a1a1a" stroke-width="1.1"/>
<text x="71.7" y="496.9" font-size="10.4" text-anchor="middle">−2K</text>
<line x1="129.5" y1="482.3" x2="129.5" y2="478.3" stroke="#1a1a1a" stroke-width="1.1"/>
<text x="129.7" y="496.9" font-size="10.4" text-anchor="middle">Start</text>
<line x1="188.5" y1="482.3" x2="188.5" y2="478.3" stroke="#1a1a1a" stroke-width="1.1"/>
<text x="188.7" y="496.9" font-size="10.4" text-anchor="middle">End</text>
<line x1="246.5" y1="482.3" x2="246.5" y2="478.3" stroke="#1a1a1a" stroke-width="1.1"/>
<text x="246.3" y="496.9" font-size="10.4" text-anchor="middle">+2K</text>
<rect x="186.7" y="314.1" width="65.8" height="48.6" fill="#fff" stroke="#333" stroke-width="1.1"/>
<line x1="189.2" y1="321.3" x2="200.2" y2="321.3" stroke="#1463f5" stroke-width="1.7"/>
<text x="204.7" y="325" font-size="10.4">Oligo(dT)</text>
<line x1="189.2" y1="333.3" x2="200.2" y2="333.3" stroke="#8cc224" stroke-width="1.7"/>
<text x="204.7" y="337" font-size="10.4">RICK</text>
<line x1="189.2" y1="344.9" x2="200.2" y2="344.9" stroke="#000" stroke-width="1.7"/>
<text x="204.7" y="348.6" font-size="10.4">H3K27ac</text>
<line x1="189.2" y1="356.5" x2="200.2" y2="356.5" stroke="#e829b8" stroke-width="1.7"/>
<text x="204.7" y="360.2" font-size="10.4">H3K4me1</text>
<text x="158" y="306" font-size="10.4" text-anchor="middle">All enhancers</text>
<text x="27" y="397.6" font-size="10.4" text-anchor="middle" transform="rotate(-90 27 397.6)">RNA-seq density</text>
<text x="277.5" y="398.4" font-size="10.4" text-anchor="middle" transform="rotate(90 277.5 398.4)">ChIP-seq density</text>
<text x="306" y="262.3" font-size="20" font-weight="bold" fill="#000">e</text>
<rect x="371.2" y="443.5" width="6" height="35.7" fill="#a1bb6c"/>
<rect x="383" y="424.1" width="6" height="55.1" fill="#1565f0"/>
<rect x="377.2" y="478.3" width="5.6" height="0.9" fill="#c9605a"/>
<rect x="388.9" y="478.3" width="5.6" height="0.9" fill="#8d77b9"/>
<line x1="374.5" y1="434" x2="374.5" y2="443.5" stroke="#444" stroke-width="1.1"/>
<line x1="371.7" y1="434.5" x2="376.7" y2="434.5" stroke="#444" stroke-width="1.1"/>
<line x1="386.5" y1="418" x2="386.5" y2="424.1" stroke="#444" stroke-width="1.1"/>
<line x1="383.5" y1="418.5" x2="388.5" y2="418.5" stroke="#444" stroke-width="1.1"/>
<circle cx="374.2" cy="432.9" r="2.85" fill="#8f8f8f" fill-opacity="0.8"/>
<circle cx="374.2" cy="445.1" r="2.85" fill="#8f8f8f" fill-opacity="0.8"/>
<circle cx="374.2" cy="450.6" r="2.85" fill="#8f8f8f" fill-opacity="0.8"/>
<circle cx="386" cy="419.5" r="2.85" fill="#8f8f8f" fill-opacity="0.8"/>
<circle cx="386" cy="430.7" r="2.85" fill="#8f8f8f" fill-opacity="0.8"/>
<circle cx="380" cy="477.3" r="2.85" fill="#8f8f8f" fill-opacity="0.8"/>
<circle cx="391.7" cy="477.1" r="2.85" fill="#8f8f8f" fill-opacity="0.8"/>
<text x="386.26" y="494.2" font-size="10.4" text-anchor="end" transform="rotate(-45 386.26 494.2)" font-style="italic">ACTB</text>
<rect x="403.32" y="439.8" width="6" height="39.4" fill="#a1bb6c"/>
<rect x="415.12" y="360.9" width="6" height="118.3" fill="#1565f0"/>
<rect x="409.32" y="478.3" width="5.6" height="0.9" fill="#c9605a"/>
<rect x="421.02" y="478.3" width="5.6" height="0.9" fill="#8d77b9"/>
<line x1="406.5" y1="429.5" x2="406.5" y2="439.8" stroke="#444" stroke-width="1.1"/>
<line x1="403.82" y1="429.5" x2="408.82" y2="429.5" stroke="#444" stroke-width="1.1"/>
<line x1="418.5" y1="351.5" x2="418.5" y2="360.9" stroke="#444" stroke-width="1.1"/>
<line x1="415.62" y1="351.5" x2="420.62" y2="351.5" stroke="#444" stroke-width="1.1"/>
<circle cx="406.32" cy="427" r="2.85" fill="#8f8f8f" fill-opacity="0.8"/>
<circle cx="406.32" cy="443.5" r="2.85" fill="#8f8f8f" fill-opacity="0.8"/>
<circle cx="406.32" cy="447" r="2.85" fill="#8f8f8f" fill-opacity="0.8"/>
<circle cx="418.12" cy="351.5" r="2.85" fill="#8f8f8f" fill-opacity="0.8"/>
<circle cx="418.12" cy="367.6" r="2.85" fill="#8f8f8f" fill-opacity="0.8"/>
<circle cx="412.12" cy="477.3" r="2.85" fill="#8f8f8f" fill-opacity="0.8"/>
<circle cx="423.82" cy="477.1" r="2.85" fill="#8f8f8f" fill-opacity="0.8"/>
<text x="418.38" y="494.2" font-size="10.4" text-anchor="end" transform="rotate(-45 418.38 494.2)" font-style="italic">GAPDH</text>
<rect x="435.44" y="429.9" width="6" height="49.3" fill="#a1bb6c"/>
<rect x="447.24" y="424.1" width="6" height="55.1" fill="#1565f0"/>
<rect x="441.44" y="478.3" width="5.6" height="0.9" fill="#c9605a"/>
<rect x="453.14" y="478.3" width="5.6" height="0.9" fill="#8d77b9"/>
<line x1="438.5" y1="422.1" x2="438.5" y2="429.9" stroke="#444" stroke-width="1.1"/>
<line x1="435.94" y1="422.5" x2="440.94" y2="422.5" stroke="#444" stroke-width="1.1"/>
<line x1="450.5" y1="416.1" x2="450.5" y2="424.1" stroke="#444" stroke-width="1.1"/>
<line x1="447.74" y1="416.5" x2="452.74" y2="416.5" stroke="#444" stroke-width="1.1"/>
<circle cx="438.44" cy="417.9" r="2.85" fill="#8f8f8f" fill-opacity="0.8"/>
<circle cx="438.44" cy="429.5" r="2.85" fill="#8f8f8f" fill-opacity="0.8"/>
<circle cx="438.44" cy="433.2" r="2.85" fill="#8f8f8f" fill-opacity="0.8"/>
<circle cx="450.24" cy="411.6" r="2.85" fill="#8f8f8f" fill-opacity="0.8"/>
<circle cx="450.24" cy="426.6" r="2.85" fill="#8f8f8f" fill-opacity="0.8"/>
<circle cx="444.24" cy="477.3" r="2.85" fill="#8f8f8f" fill-opacity="0.8"/>
<circle cx="455.94" cy="477.1" r="2.85" fill="#8f8f8f" fill-opacity="0.8"/>
<text x="450.5" y="494.2" font-size="10.4" text-anchor="end" transform="rotate(-45 450.5 494.2)" font-style="italic">MYC</text>
<rect x="467.56" y="386.3" width="6" height="92.9" fill="#a1bb6c"/>
<rect x="479.36" y="388.6" width="6" height="90.6" fill="#1565f0"/>
<rect x="473.56" y="478.3" width="5.6" height="0.9" fill="#c9605a"/>
<rect x="485.26" y="478.3" width="5.6" height="0.9" fill="#8d77b9"/>
<line x1="470.5" y1="367.3" x2="470.5" y2="386.3" stroke="#444" stroke-width="1.1"/>
<line x1="468.06" y1="367.5" x2="473.06" y2="367.5" stroke="#444" stroke-width="1.1"/>
<line x1="482.5" y1="369.2" x2="482.5" y2="388.6" stroke="#444" stroke-width="1.1"/>
<line x1="479.86" y1="369.5" x2="484.86" y2="369.5" stroke="#444" stroke-width="1.1"/>
<circle cx="470.56" cy="373.5" r="2.85" fill="#8f8f8f" fill-opacity="0.8"/>
<circle cx="470.56" cy="376.5" r="2.85" fill="#8f8f8f" fill-opacity="0.8"/>
<circle cx="470.56" cy="407" r="2.85" fill="#8f8f8f" fill-opacity="0.8"/>
<circle cx="482.36" cy="369.2" r="2.85" fill="#8f8f8f" fill-opacity="0.8"/>
<circle cx="482.36" cy="386.7" r="2.85" fill="#8f8f8f" fill-opacity="0.8"/>
<circle cx="482.36" cy="407" r="2.85" fill="#8f8f8f" fill-opacity="0.8"/>
<circle cx="476.36" cy="477.3" r="2.85" fill="#8f8f8f" fill-opacity="0.8"/>
<circle cx="488.06" cy="477.1" r="2.85" fill="#8f8f8f" fill-opacity="0.8"/>
<text x="482.62" y="494.2" font-size="10.4" text-anchor="end" transform="rotate(-45 482.62 494.2)" font-style="italic">COX1</text>
<rect x="499.68" y="351.3" width="6" height="127.9" fill="#a1bb6c"/>
<rect x="511.48" y="471.9" width="6" height="7.3" fill="#1565f0"/>
<rect x="505.68" y="478.3" width="5.6" height="0.9" fill="#c9605a"/>
<rect x="517.38" y="478.3" width="5.6" height="0.9" fill="#8d77b9"/>
<line x1="502.5" y1="333.2" x2="502.5" y2="351.3" stroke="#444" stroke-width="1.1"/>
<line x1="500.18" y1="333.5" x2="505.18" y2="333.5" stroke="#444" stroke-width="1.1"/>
<line x1="514.5" y1="463.2" x2="514.5" y2="471.9" stroke="#444" stroke-width="1.1"/>
<line x1="511.98" y1="463.5" x2="516.98" y2="463.5" stroke="#444" stroke-width="1.1"/>
<circle cx="502.68" cy="333.2" r="2.85" fill="#8f8f8f" fill-opacity="0.8"/>
<circle cx="502.68" cy="359.4" r="2.85" fill="#8f8f8f" fill-opacity="0.8"/>
<circle cx="514.48" cy="464.9" r="2.85" fill="#8f8f8f" fill-opacity="0.8"/>
<circle cx="514.48" cy="472" r="2.85" fill="#8f8f8f" fill-opacity="0.8"/>
<circle cx="508.48" cy="477.3" r="2.85" fill="#8f8f8f" fill-opacity="0.8"/>
<circle cx="520.18" cy="477.1" r="2.85" fill="#8f8f8f" fill-opacity="0.8"/>
<text x="514.74" y="494.2" font-size="10.4" text-anchor="end" transform="rotate(-45 514.74 494.2)" font-style="italic">HIST1H3B</text>
<rect x="531.8" y="396.3" width="6" height="82.9" fill="#a1bb6c"/>
<rect x="543.6" y="469.5" width="6" height="9.7" fill="#1565f0"/>
<rect x="537.8" y="478.3" width="5.6" height="0.9" fill="#c9605a"/>
<rect x="549.5" y="478.3" width="5.6" height="0.9" fill="#8d77b9"/>
<line x1="534.5" y1="376" x2="534.5" y2="396.3" stroke="#444" stroke-width="1.1"/>
<line x1="532.3" y1="376.5" x2="537.3" y2="376.5" stroke="#444" stroke-width="1.1"/>
<line x1="546.5" y1="464" x2="546.5" y2="469.5" stroke="#444" stroke-width="1.1"/>
<line x1="544.1" y1="464.5" x2="549.1" y2="464.5" stroke="#444" stroke-width="1.1"/>
<circle cx="534.8" cy="376" r="2.85" fill="#8f8f8f" fill-opacity="0.8"/>
<circle cx="534.8" cy="405.3" r="2.85" fill="#8f8f8f" fill-opacity="0.8"/>
<circle cx="546.6" cy="464.9" r="2.85" fill="#8f8f8f" fill-opacity="0.8"/>
<circle cx="546.6" cy="470.5" r="2.85" fill="#8f8f8f" fill-opacity="0.8"/>
<circle cx="540.6" cy="477.3" r="2.85" fill="#8f8f8f" fill-opacity="0.8"/>
<circle cx="552.3" cy="477.1" r="2.85" fill="#8f8f8f" fill-opacity="0.8"/>
<text x="546.86" y="494.2" font-size="10.4" text-anchor="end" transform="rotate(-45 546.86 494.2)" font-style="italic">HIST1H2BK</text>
<rect x="563.92" y="358.1" width="6" height="121.1" fill="#a1bb6c"/>
<rect x="575.72" y="454.4" width="6" height="24.8" fill="#1565f0"/>
<rect x="569.92" y="478.3" width="5.6" height="0.9" fill="#c9605a"/>
<rect x="581.62" y="476.3" width="5.6" height="2.9" fill="#8d77b9"/>
<line x1="566.5" y1="345.2" x2="566.5" y2="358.1" stroke="#444" stroke-width="1.1"/>
<line x1="564.42" y1="345.5" x2="569.42" y2="345.5" stroke="#444" stroke-width="1.1"/>
<line x1="578.5" y1="443.2" x2="578.5" y2="454.4" stroke="#444" stroke-width="1.1"/>
<line x1="576.22" y1="443.5" x2="581.22" y2="443.5" stroke="#444" stroke-width="1.1"/>
<circle cx="566.92" cy="345.2" r="2.85" fill="#8f8f8f" fill-opacity="0.8"/>
<circle cx="566.92" cy="360.9" r="2.85" fill="#8f8f8f" fill-opacity="0.8"/>
<circle cx="566.92" cy="365.5" r="2.85" fill="#8f8f8f" fill-opacity="0.8"/>
<circle cx="578.72" cy="443.2" r="2.85" fill="#8f8f8f" fill-opacity="0.8"/>
<circle cx="578.72" cy="456.1" r="2.85" fill="#8f8f8f" fill-opacity="0.8"/>
<circle cx="578.72" cy="461.2" r="2.85" fill="#8f8f8f" fill-opacity="0.8"/>
<circle cx="572.72" cy="477.3" r="2.85" fill="#8f8f8f" fill-opacity="0.8"/>
<line x1="584.42" y1="472.8" x2="584.42" y2="476.3" stroke="#444" stroke-width="1"/>
<line x1="582.62" y1="472.8" x2="586.22" y2="472.8" stroke="#444" stroke-width="1"/>
<circle cx="584.42" cy="472.8" r="2.85" fill="#8f8f8f" fill-opacity="0.8"/>
<text x="578.98" y="494.2" font-size="10.4" text-anchor="end" transform="rotate(-45 578.98 494.2)" font-style="italic">MALAT1</text>
<rect x="596.04" y="398.6" width="6" height="80.6" fill="#a1bb6c"/>
<rect x="607.84" y="426.3" width="6" height="52.9" fill="#1565f0"/>
<rect x="602.04" y="478.3" width="5.6" height="0.9" fill="#c9605a"/>
<rect x="613.74" y="476.3" width="5.6" height="2.9" fill="#8d77b9"/>
<line x1="599.5" y1="373.7" x2="599.5" y2="398.6" stroke="#444" stroke-width="1.1"/>
<line x1="596.54" y1="373.5" x2="601.54" y2="373.5" stroke="#444" stroke-width="1.1"/>
<line x1="610.5" y1="414" x2="610.5" y2="426.3" stroke="#444" stroke-width="1.1"/>
<line x1="608.34" y1="414.5" x2="613.34" y2="414.5" stroke="#444" stroke-width="1.1"/>
<circle cx="599.04" cy="373.7" r="2.85" fill="#8f8f8f" fill-opacity="0.8"/>
<circle cx="599.04" cy="408.8" r="2.85" fill="#8f8f8f" fill-opacity="0.8"/>
<circle cx="599.04" cy="413" r="2.85" fill="#8f8f8f" fill-opacity="0.8"/>
<circle cx="610.84" cy="414" r="2.85" fill="#8f8f8f" fill-opacity="0.8"/>
<circle cx="610.84" cy="437.5" r="2.85" fill="#8f8f8f" fill-opacity="0.8"/>
<circle cx="604.84" cy="477.3" r="2.85" fill="#8f8f8f" fill-opacity="0.8"/>
<line x1="616.54" y1="472.8" x2="616.54" y2="476.3" stroke="#444" stroke-width="1"/>
<line x1="614.74" y1="472.8" x2="618.34" y2="472.8" stroke="#444" stroke-width="1"/>
<circle cx="616.54" cy="472.8" r="2.85" fill="#8f8f8f" fill-opacity="0.8"/>
<text x="611.1" y="494.2" font-size="10.4" text-anchor="end" transform="rotate(-45 611.1 494.2)" font-style="italic">NEAT1</text>
<rect x="628.16" y="435.1" width="6" height="44.1" fill="#a1bb6c"/>
<rect x="639.96" y="473.7" width="6" height="5.5" fill="#1565f0"/>
<rect x="634.16" y="478.3" width="5.6" height="0.9" fill="#c9605a"/>
<rect x="645.86" y="478.3" width="5.6" height="0.9" fill="#8d77b9"/>
<line x1="631.5" y1="429.1" x2="631.5" y2="435.1" stroke="#444" stroke-width="1.1"/>
<line x1="628.66" y1="429.5" x2="633.66" y2="429.5" stroke="#444" stroke-width="1.1"/>
<line x1="642.5" y1="469.5" x2="642.5" y2="473.7" stroke="#444" stroke-width="1.1"/>
<line x1="640.46" y1="469.5" x2="645.46" y2="469.5" stroke="#444" stroke-width="1.1"/>
<circle cx="631.16" cy="429.8" r="2.85" fill="#8f8f8f" fill-opacity="0.8"/>
<circle cx="631.16" cy="436.8" r="2.85" fill="#8f8f8f" fill-opacity="0.8"/>
<circle cx="642.96" cy="469.1" r="2.85" fill="#8f8f8f" fill-opacity="0.8"/>
<circle cx="636.96" cy="477.3" r="2.85" fill="#8f8f8f" fill-opacity="0.8"/>
<circle cx="648.66" cy="477.1" r="2.85" fill="#8f8f8f" fill-opacity="0.8"/>
<text x="643.22" y="494.2" font-size="10.4" text-anchor="end" transform="rotate(-45 643.22 494.2)">18S <tspan font-style="italic">rRNA</tspan></text>
<rect x="660.28" y="407" width="6" height="72.2" fill="#a1bb6c"/>
<rect x="672.08" y="473" width="6" height="6.2" fill="#1565f0"/>
<rect x="666.28" y="478.3" width="5.6" height="0.9" fill="#c9605a"/>
<rect x="677.98" y="478.3" width="5.6" height="0.9" fill="#8d77b9"/>
<line x1="663.5" y1="394" x2="663.5" y2="407" stroke="#444" stroke-width="1.1"/>
<line x1="660.78" y1="394.5" x2="665.78" y2="394.5" stroke="#444" stroke-width="1.1"/>
<line x1="675.5" y1="470" x2="675.5" y2="473" stroke="#444" stroke-width="1.1"/>
<line x1="672.58" y1="470.5" x2="677.58" y2="470.5" stroke="#444" stroke-width="1.1"/>
<circle cx="663.28" cy="394" r="2.85" fill="#8f8f8f" fill-opacity="0.8"/>
<circle cx="663.28" cy="400" r="2.85" fill="#8f8f8f" fill-opacity="0.8"/>
<circle cx="663.28" cy="422.8" r="2.85" fill="#8f8f8f" fill-opacity="0.8"/>
<circle cx="675.08" cy="470.2" r="2.85" fill="#8f8f8f" fill-opacity="0.8"/>
<circle cx="669.08" cy="477.3" r="2.85" fill="#8f8f8f" fill-opacity="0.8"/>
<circle cx="680.78" cy="477.1" r="2.85" fill="#8f8f8f" fill-opacity="0.8"/>
<text x="675.34" y="494.2" font-size="10.4" text-anchor="end" transform="rotate(-45 675.34 494.2)" font-style="italic">U1 RNA</text>
<rect x="692.4" y="430.5" width="6" height="48.7" fill="#a1bb6c"/>
<rect x="704.2" y="478.5" width="6" height="0.7" fill="#1565f0"/>
<rect x="698.4" y="478.3" width="5.6" height="0.9" fill="#c9605a"/>
<rect x="710.1" y="478.3" width="5.6" height="0.9" fill="#8d77b9"/>
<line x1="695.5" y1="408.8" x2="695.5" y2="430.5" stroke="#444" stroke-width="1.1"/>
<line x1="692.9" y1="408.5" x2="697.9" y2="408.5" stroke="#444" stroke-width="1.1"/>
<circle cx="695.4" cy="408.8" r="2.85" fill="#8f8f8f" fill-opacity="0.8"/>
<circle cx="695.4" cy="438.6" r="2.85" fill="#8f8f8f" fill-opacity="0.8"/>
<circle cx="695.4" cy="443.9" r="2.85" fill="#8f8f8f" fill-opacity="0.8"/>
<circle cx="707.2" cy="478" r="2.85" fill="#8f8f8f" fill-opacity="0.8"/>
<circle cx="701.2" cy="477.3" r="2.85" fill="#8f8f8f" fill-opacity="0.8"/>
<circle cx="712.9" cy="477.1" r="2.85" fill="#8f8f8f" fill-opacity="0.8"/>
<text x="707.46" y="494.2" font-size="10.4" text-anchor="end" transform="rotate(-45 707.46 494.2)">eRNA-1</text>
<rect x="724.52" y="459.6" width="6" height="19.6" fill="#a1bb6c"/>
<rect x="736.32" y="475" width="6" height="4.2" fill="#1565f0"/>
<rect x="730.52" y="476" width="5.6" height="3.2" fill="#c9605a"/>
<rect x="742.22" y="475.5" width="5.6" height="3.7" fill="#8d77b9"/>
<line x1="727.5" y1="453.7" x2="727.5" y2="459.6" stroke="#444" stroke-width="1.1"/>
<line x1="725.02" y1="453.5" x2="730.02" y2="453.5" stroke="#444" stroke-width="1.1"/>
<line x1="739.5" y1="471" x2="739.5" y2="475" stroke="#444" stroke-width="1.1"/>
<line x1="736.82" y1="471.5" x2="741.82" y2="471.5" stroke="#444" stroke-width="1.1"/>
<circle cx="727.52" cy="454.4" r="2.85" fill="#8f8f8f" fill-opacity="0.8"/>
<circle cx="727.52" cy="462.1" r="2.85" fill="#8f8f8f" fill-opacity="0.8"/>
<circle cx="739.32" cy="472" r="2.85" fill="#8f8f8f" fill-opacity="0.8"/>
<line x1="733.32" y1="472.5" x2="733.32" y2="476" stroke="#444" stroke-width="1"/>
<line x1="731.52" y1="472.5" x2="735.12" y2="472.5" stroke="#444" stroke-width="1"/>
<circle cx="733.32" cy="472.5" r="2.85" fill="#8f8f8f" fill-opacity="0.8"/>
<line x1="745.02" y1="472" x2="745.02" y2="475.5" stroke="#444" stroke-width="1"/>
<line x1="743.22" y1="472" x2="746.82" y2="472" stroke="#444" stroke-width="1"/>
<circle cx="745.02" cy="472" r="2.85" fill="#8f8f8f" fill-opacity="0.8"/>
<text x="739.58" y="494.2" font-size="10.4" text-anchor="end" transform="rotate(-45 739.58 494.2)">eRNA-2</text>
<rect x="756.64" y="394.7" width="6" height="84.5" fill="#a1bb6c"/>
<rect x="768.44" y="467.7" width="6" height="11.5" fill="#1565f0"/>
<rect x="762.64" y="473.6" width="5.6" height="5.6" fill="#c9605a"/>
<rect x="774.34" y="475" width="5.6" height="4.2" fill="#8d77b9"/>
<line x1="759.5" y1="377.9" x2="759.5" y2="394.7" stroke="#444" stroke-width="1.1"/>
<line x1="757.14" y1="377.5" x2="762.14" y2="377.5" stroke="#444" stroke-width="1.1"/>
<line x1="771.5" y1="464" x2="771.5" y2="467.7" stroke="#444" stroke-width="1.1"/>
<line x1="768.94" y1="464.5" x2="773.94" y2="464.5" stroke="#444" stroke-width="1.1"/>
<circle cx="759.64" cy="377.9" r="2.85" fill="#8f8f8f" fill-opacity="0.8"/>
<circle cx="759.64" cy="400" r="2.85" fill="#8f8f8f" fill-opacity="0.8"/>
<circle cx="759.64" cy="406.3" r="2.85" fill="#8f8f8f" fill-opacity="0.8"/>
<circle cx="771.44" cy="464.9" r="2.85" fill="#8f8f8f" fill-opacity="0.8"/>
<line x1="765.44" y1="470.1" x2="765.44" y2="473.6" stroke="#444" stroke-width="1"/>
<line x1="763.64" y1="470.1" x2="767.24" y2="470.1" stroke="#444" stroke-width="1"/>
<circle cx="765.44" cy="470.1" r="2.85" fill="#8f8f8f" fill-opacity="0.8"/>
<line x1="777.14" y1="471.5" x2="777.14" y2="475" stroke="#444" stroke-width="1"/>
<line x1="775.34" y1="471.5" x2="778.94" y2="471.5" stroke="#444" stroke-width="1"/>
<circle cx="777.14" cy="471.5" r="2.85" fill="#8f8f8f" fill-opacity="0.8"/>
<text x="771.7" y="494.2" font-size="10.4" text-anchor="end" transform="rotate(-45 771.7 494.2)" font-style="italic">Circ-6763</text>
<rect x="788.76" y="435" width="6" height="44.2" fill="#a1bb6c"/>
<rect x="800.56" y="476" width="6" height="3.2" fill="#1565f0"/>
<rect x="794.76" y="476.5" width="5.6" height="2.7" fill="#c9605a"/>
<rect x="806.46" y="476" width="5.6" height="3.2" fill="#8d77b9"/>
<line x1="791.5" y1="428" x2="791.5" y2="435" stroke="#444" stroke-width="1.1"/>
<line x1="789.26" y1="428.5" x2="794.26" y2="428.5" stroke="#444" stroke-width="1.1"/>
<line x1="803.5" y1="473" x2="803.5" y2="476" stroke="#444" stroke-width="1.1"/>
<line x1="801.06" y1="473.5" x2="806.06" y2="473.5" stroke="#444" stroke-width="1.1"/>
<circle cx="791.76" cy="428" r="2.85" fill="#8f8f8f" fill-opacity="0.8"/>
<circle cx="791.76" cy="435" r="2.85" fill="#8f8f8f" fill-opacity="0.8"/>
<circle cx="791.76" cy="440.3" r="2.85" fill="#8f8f8f" fill-opacity="0.8"/>
<circle cx="803.56" cy="474.5" r="2.85" fill="#8f8f8f" fill-opacity="0.8"/>
<line x1="797.56" y1="473" x2="797.56" y2="476.5" stroke="#444" stroke-width="1"/>
<line x1="795.76" y1="473" x2="799.36" y2="473" stroke="#444" stroke-width="1"/>
<circle cx="797.56" cy="473" r="2.85" fill="#8f8f8f" fill-opacity="0.8"/>
<line x1="809.26" y1="472.5" x2="809.26" y2="476" stroke="#444" stroke-width="1"/>
<line x1="807.46" y1="472.5" x2="811.06" y2="472.5" stroke="#444" stroke-width="1"/>
<circle cx="809.26" cy="472.5" r="2.85" fill="#8f8f8f" fill-opacity="0.8"/>
<text x="803.82" y="494.2" font-size="10.4" text-anchor="end" transform="rotate(-45 803.82 494.2)" font-style="italic">Circ-7235</text>
<line x1="366.5" y1="328.6" x2="366.5" y2="479.2" stroke="#1a1a1a" stroke-width="1.1"/>
<line x1="366.6" y1="479.5" x2="816.6" y2="479.5" stroke="#1a1a1a" stroke-width="1.1"/>
<line x1="366.5" y1="479.2" x2="366.5" y2="483.7" stroke="#1a1a1a" stroke-width="1.1"/>
<line x1="398.5" y1="479.2" x2="398.5" y2="483.7" stroke="#1a1a1a" stroke-width="1.1"/>
<line x1="430.5" y1="479.2" x2="430.5" y2="483.7" stroke="#1a1a1a" stroke-width="1.1"/>
<line x1="462.5" y1="479.2" x2="462.5" y2="483.7" stroke="#1a1a1a" stroke-width="1.1"/>
<line x1="495.5" y1="479.2" x2="495.5" y2="483.7" stroke="#1a1a1a" stroke-width="1.1"/>
<line x1="527.5" y1="479.2" x2="527.5" y2="483.7" stroke="#1a1a1a" stroke-width="1.1"/>
<line x1="559.5" y1="479.2" x2="559.5" y2="483.7" stroke="#1a1a1a" stroke-width="1.1"/>
<line x1="591.5" y1="479.2" x2="591.5" y2="483.7" stroke="#1a1a1a" stroke-width="1.1"/>
<line x1="623.5" y1="479.2" x2="623.5" y2="483.7" stroke="#1a1a1a" stroke-width="1.1"/>
<line x1="655.5" y1="479.2" x2="655.5" y2="483.7" stroke="#1a1a1a" stroke-width="1.1"/>
<line x1="687.5" y1="479.2" x2="687.5" y2="483.7" stroke="#1a1a1a" stroke-width="1.1"/>
<line x1="719.5" y1="479.2" x2="719.5" y2="483.7" stroke="#1a1a1a" stroke-width="1.1"/>
<line x1="752.5" y1="479.2" x2="752.5" y2="483.7" stroke="#1a1a1a" stroke-width="1.1"/>
<line x1="784.5" y1="479.2" x2="784.5" y2="483.7" stroke="#1a1a1a" stroke-width="1.1"/>
<line x1="816.5" y1="479.2" x2="816.5" y2="483.7" stroke="#1a1a1a" stroke-width="1.1"/>
<line x1="361.3" y1="479.5" x2="366.6" y2="479.5" stroke="#1a1a1a" stroke-width="1.1"/>
<text x="356.4" y="482.9" font-size="10.4" text-anchor="end">0</text>
<line x1="362.6" y1="464.5" x2="366.6" y2="464.5" stroke="#1a1a1a" stroke-width="1.1"/>
<line x1="361.3" y1="449.5" x2="366.6" y2="449.5" stroke="#1a1a1a" stroke-width="1.1"/>
<text x="356.4" y="452.78" font-size="10.4" text-anchor="end">0.2</text>
<line x1="362.6" y1="434.5" x2="366.6" y2="434.5" stroke="#1a1a1a" stroke-width="1.1"/>
<line x1="361.3" y1="418.5" x2="366.6" y2="418.5" stroke="#1a1a1a" stroke-width="1.1"/>
<text x="356.4" y="422.66" font-size="10.4" text-anchor="end">0.4</text>
<line x1="362.6" y1="403.5" x2="366.6" y2="403.5" stroke="#1a1a1a" stroke-width="1.1"/>
<line x1="361.3" y1="388.5" x2="366.6" y2="388.5" stroke="#1a1a1a" stroke-width="1.1"/>
<text x="356.4" y="392.54" font-size="10.4" text-anchor="end">0.6</text>
<line x1="362.6" y1="373.5" x2="366.6" y2="373.5" stroke="#1a1a1a" stroke-width="1.1"/>
<line x1="361.3" y1="358.5" x2="366.6" y2="358.5" stroke="#1a1a1a" stroke-width="1.1"/>
<text x="356.4" y="362.42" font-size="10.4" text-anchor="end">0.8</text>
<line x1="362.6" y1="343.5" x2="366.6" y2="343.5" stroke="#1a1a1a" stroke-width="1.1"/>
<line x1="361.3" y1="328.5" x2="366.6" y2="328.5" stroke="#1a1a1a" stroke-width="1.1"/>
<text x="356.4" y="332.3" font-size="10.4" text-anchor="end">1.0</text>
<text x="332" y="403.5" font-size="10.4" text-anchor="middle" transform="rotate(-90 332 403.5)">Relative RNA level</text>
<path d="M373.85,426.3 L373.85,422.7 L380.35,422.7 L380.35,426.3" fill="none" stroke="#111" stroke-width="1.15" />
<text x="377.1" y="416.8" font-size="6.4" text-anchor="middle" letter-spacing="-0.55" font-family="'DejaVu Sans', sans-serif">★★</text>
<text x="379.4" y="408.3" font-size="6.9" transform="rotate(-90 379.4 408.3)"><tspan font-style="italic">P</tspan> = 0.0024</text>
<path d="M385.05,412.2 L385.05,408.6 L391.55,408.6 L391.55,412.2" fill="none" stroke="#111" stroke-width="1.15" />
<text x="388.3" y="403" font-size="6.4" text-anchor="middle" letter-spacing="-0.55" font-family="'DejaVu Sans', sans-serif">★★★</text>
<text x="390.6" y="395.4" font-size="6.9" transform="rotate(-90 390.6 395.4)"><tspan font-style="italic">P</tspan> = 0.0001</text>
<path d="M405.85,419.8 L405.85,416.2 L412.35,416.2 L412.35,419.8" fill="none" stroke="#111" stroke-width="1.15" />
<text x="409.1" y="410.7" font-size="6.4" text-anchor="middle" letter-spacing="-0.55" font-family="'DejaVu Sans', sans-serif">★★</text>
<text x="411.4" y="402.7" font-size="6.9" transform="rotate(-90 411.4 402.7)"><tspan font-style="italic">P</tspan> = 0.0031</text>
<path d="M417.15,343.8 L417.15,340.2 L423.65,340.2 L423.65,343.8" fill="none" stroke="#111" stroke-width="1.15" />
<text x="420.4" y="334.4" font-size="6.4" text-anchor="middle" letter-spacing="-0.55" font-family="'DejaVu Sans', sans-serif">★★★</text>
<path d="M437.15,411.5 L437.15,407.9 L443.65,407.9 L443.65,411.5" fill="none" stroke="#111" stroke-width="1.15" />
<text x="440.4" y="402.1" font-size="6.4" text-anchor="middle" letter-spacing="-0.55" font-family="'DejaVu Sans', sans-serif">★★★</text>
<text x="442.7" y="395.4" font-size="6.9" transform="rotate(-90 442.7 395.4)"><tspan font-style="italic">P</tspan> = 0.0004</text>
<path d="M450.15,406 L450.15,402.4 L456.65,402.4 L456.65,406" fill="none" stroke="#111" stroke-width="1.15" />
<text x="453.4" y="395.6" font-size="6.4" text-anchor="middle" letter-spacing="-0.55" font-family="'DejaVu Sans', sans-serif">★★★</text>
<text x="455.7" y="389.4" font-size="6.9" transform="rotate(-90 455.7 389.4)"><tspan font-style="italic">P</tspan> = 0.0003</text>
<path d="M469.85,363 L469.85,359.4 L476.35,359.4 L476.35,363" fill="none" stroke="#111" stroke-width="1.15" />
<text x="473.1" y="353.8" font-size="6.4" text-anchor="middle" letter-spacing="-0.55" font-family="'DejaVu Sans', sans-serif">★★</text>
<text x="475.4" y="346.1" font-size="6.9" transform="rotate(-90 475.4 346.1)"><tspan font-style="italic">P</tspan> = 0.0011</text>
<path d="M482.85,362.3 L482.85,358.7 L489.35,358.7 L489.35,362.3" fill="none" stroke="#111" stroke-width="1.15" />
<text x="486.1" y="352.8" font-size="6.4" text-anchor="middle" letter-spacing="-0.55" font-family="'DejaVu Sans', sans-serif">★★</text>
<text x="488.4" y="345.2" font-size="6.9" transform="rotate(-90 488.4 345.2)"><tspan font-style="italic">P</tspan> = 0.0012</text>
<path d="M502.45,328.5 L502.45,324.9 L508.95,324.9 L508.95,328.5" fill="none" stroke="#111" stroke-width="1.15" />
<text x="505.7" y="319.6" font-size="6.4" text-anchor="middle" letter-spacing="-0.55" font-family="'DejaVu Sans', sans-serif">★★★</text>
<path d="M534.25,370.9 L534.25,367.3 L540.75,367.3 L540.75,370.9" fill="none" stroke="#111" stroke-width="1.15" />
<text x="537.5" y="361.5" font-size="6.4" text-anchor="middle" letter-spacing="-0.55" font-family="'DejaVu Sans', sans-serif">★★</text>
<text x="539.8" y="353.5" font-size="6.9" transform="rotate(-90 539.8 353.5)"><tspan font-style="italic">P</tspan> = 0.0011</text>
<path d="M546.15,458.1 L546.15,454.5 L552.65,454.5 L552.65,458.1" fill="none" stroke="#111" stroke-width="1.15" />
<text x="549.4" y="447.9" font-size="6.4" text-anchor="middle" letter-spacing="-0.55" font-family="'DejaVu Sans', sans-serif">★★</text>
<text x="551.7" y="441.3" font-size="6.9" transform="rotate(-90 551.7 441.3)"><tspan font-style="italic">P</tspan> = 0.0039</text>
<path d="M565.45,339.6 L565.45,336 L571.95,336 L571.95,339.6" fill="none" stroke="#111" stroke-width="1.15" />
<text x="568.7" y="329.8" font-size="6.4" text-anchor="middle" letter-spacing="-0.55" font-family="'DejaVu Sans', sans-serif">★★★</text>
<path d="M578.95,437.1 L578.95,433.5 L585.45,433.5 L585.45,437.1" fill="none" stroke="#111" stroke-width="1.15" />
<text x="582.2" y="427.3" font-size="6.4" text-anchor="middle" letter-spacing="-0.55" font-family="'DejaVu Sans', sans-serif">★</text>
<text x="584.5" y="418.7" font-size="6.9" transform="rotate(-90 584.5 418.7)"><tspan font-style="italic">P</tspan> = 0.0140</text>
<path d="M598.35,366.4 L598.35,362.8 L604.85,362.8 L604.85,366.4" fill="none" stroke="#111" stroke-width="1.15" />
<text x="601.6" y="356.8" font-size="6.4" text-anchor="middle" letter-spacing="-0.55" font-family="'DejaVu Sans', sans-serif">★★</text>
<text x="603.9" y="348.6" font-size="6.9" transform="rotate(-90 603.9 348.6)"><tspan font-style="italic">P</tspan> = 0.0031</text>
<path d="M610.35,408.1 L610.35,404.5 L616.85,404.5 L616.85,408.1" fill="none" stroke="#111" stroke-width="1.15" />
<text x="613.6" y="398.1" font-size="6.4" text-anchor="middle" letter-spacing="-0.55" font-family="'DejaVu Sans', sans-serif">★★</text>
<text x="615.9" y="392" font-size="6.9" transform="rotate(-90 615.9 392)"><tspan font-style="italic">P</tspan> = 0.0021</text>
<path d="M630.35,424 L630.35,420.4 L636.85,420.4 L636.85,424" fill="none" stroke="#111" stroke-width="1.15" />
<text x="633.6" y="413.7" font-size="6.4" text-anchor="middle" letter-spacing="-0.55" font-family="'DejaVu Sans', sans-serif">★★★</text>
<text x="635.9" y="405.6" font-size="6.9" transform="rotate(-90 635.9 405.6)"><tspan font-style="italic">P</tspan> = 0.0006</text>
<path d="M643.35,463.9 L643.35,460.3 L649.85,460.3 L649.85,463.9" fill="none" stroke="#111" stroke-width="1.15" />
<text x="646.6" y="453.5" font-size="6.4" text-anchor="middle" letter-spacing="-0.55" font-family="'DejaVu Sans', sans-serif">★</text>
<text x="648.9" y="444" font-size="6.9" transform="rotate(-90 648.9 444)"><tspan font-style="italic">P</tspan> = 0.0277</text>
<path d="M662.55,388.6 L662.55,385 L669.05,385 L669.05,388.6" fill="none" stroke="#111" stroke-width="1.15" />
<text x="665.8" y="378.6" font-size="6.4" text-anchor="middle" letter-spacing="-0.55" font-family="'DejaVu Sans', sans-serif">★★★</text>
<text x="668.1" y="367.3" font-size="6.9" transform="rotate(-90 668.1 367.3)"><tspan font-style="italic">P</tspan> = 0.0008</text>
<path d="M674.35,463.9 L674.35,460.3 L680.85,460.3 L680.85,463.9" fill="none" stroke="#111" stroke-width="1.15" />
<text x="677.6" y="453.5" font-size="6.4" text-anchor="middle" letter-spacing="-0.55" font-family="'DejaVu Sans', sans-serif">★★</text>
<text x="679.9" y="444" font-size="6.9" transform="rotate(-90 679.9 444)"><tspan font-style="italic">P</tspan> = 0.0096</text>
<path d="M695.05,401.7 L695.05,398.1 L701.55,398.1 L701.55,401.7" fill="none" stroke="#111" stroke-width="1.15" />
<text x="698.3" y="391.9" font-size="6.4" text-anchor="middle" letter-spacing="-0.55" font-family="'DejaVu Sans', sans-serif">★</text>
<text x="700.6" y="385.4" font-size="6.9" transform="rotate(-90 700.6 385.4)"><tspan font-style="italic">P</tspan> = 0.0137</text>
<path d="M726.05,449.6 L726.05,446 L732.55,446 L732.55,449.6" fill="none" stroke="#111" stroke-width="1.15" />
<text x="729.3" y="439.2" font-size="6.4" text-anchor="middle" letter-spacing="-0.55" font-family="'DejaVu Sans', sans-serif">★★</text>
<text x="731.6" y="429.7" font-size="6.9" transform="rotate(-90 731.6 429.7)"><tspan font-style="italic">P</tspan> = 0.0028</text>
<path d="M757.15,372.1 L757.15,368.5 L763.65,368.5 L763.65,372.1" fill="none" stroke="#111" stroke-width="1.15" />
<text x="760.4" y="361.8" font-size="6.4" text-anchor="middle" letter-spacing="-0.55" font-family="'DejaVu Sans', sans-serif">★★★</text>
<text x="762.7" y="354.3" font-size="6.9" transform="rotate(-90 762.7 354.3)"><tspan font-style="italic">P</tspan> = 0.0009</text>
<path d="M791.15,423.6 L791.15,420 L797.65,420 L797.65,423.6" fill="none" stroke="#111" stroke-width="1.15" />
<text x="794.4" y="412.6" font-size="6.4" text-anchor="middle" letter-spacing="-0.55" font-family="'DejaVu Sans', sans-serif">★★★</text>
<text x="796.7" y="404.6" font-size="6.9" transform="rotate(-90 796.7 404.6)"><tspan font-style="italic">P</tspan> = 0.0003</text>
<text x="400.9" y="325.8" font-size="6.9"><tspan font-style="italic">P</tspan> = 2.39 × 10<tspan dy="-3.2" font-size="5">−5</tspan></text>
<text x="491.3" y="311.4" font-size="6.9"><tspan font-style="italic">P</tspan> = 0.0001</text>
<text x="545.4" y="318.7" font-size="6.9"><tspan font-style="italic">P</tspan> = 3.82 × 10<tspan dy="-3.2" font-size="5">−5</tspan></text>
<line x1="372.8" y1="303.5" x2="475.8" y2="303.5" stroke="#222" stroke-width="1.1"/>
<line x1="497.2" y1="303.5" x2="550.5" y2="303.5" stroke="#222" stroke-width="1.1"/>
<line x1="563" y1="303.5" x2="616.7" y2="303.5" stroke="#222" stroke-width="1.1"/>
<line x1="630.1" y1="303.5" x2="649.8" y2="303.5" stroke="#222" stroke-width="1.1"/>
<line x1="663" y1="303.5" x2="683.4" y2="303.5" stroke="#222" stroke-width="1.1"/>
<line x1="695" y1="303.5" x2="743.2" y2="303.5" stroke="#222" stroke-width="1.1"/>
<line x1="756.6" y1="303.5" x2="807.7" y2="303.5" stroke="#222" stroke-width="1.1"/>
<text x="421.9" y="278.8" font-size="10.4" text-anchor="middle" transform="rotate(-45 421.9 278.8)">PolyA</text>
<text x="431.5" y="288.2" font-size="10.4" text-anchor="middle" transform="rotate(-45 431.5 288.2)">mRNAs</text>
<text x="528.8" y="278.4" font-size="10.4" text-anchor="middle" transform="rotate(-45 528.8 278.4)">Non-polyA</text>
<text x="538.2" y="286.9" font-size="10.4" text-anchor="middle" transform="rotate(-45 538.2 286.9)">mRNAs</text>
<text x="599.1" y="285.6" font-size="10.4" text-anchor="middle" transform="rotate(-45 599.1 285.6)">lincRNAs</text>
<text x="652.3" y="289.4" font-size="10.4" text-anchor="middle" transform="rotate(-45 652.3 289.4)">rRNAs</text>
<text x="685.4" y="286.6" font-size="10.4" text-anchor="middle" transform="rotate(-45 685.4 286.6)">snRNAs</text>
<text x="728.4" y="271.1" font-size="10.4" text-anchor="middle" transform="rotate(-45 728.4 271.1)">Transcribed</text>
<text x="738.5" y="280.4" font-size="10.4" text-anchor="middle" transform="rotate(-45 738.5 280.4)">enhancers</text>
<text x="788.9" y="276.2" font-size="10.4" text-anchor="middle" transform="rotate(-45 788.9 276.2)">Candidate</text>
<text x="797.9" y="285.1" font-size="10.4" text-anchor="middle" transform="rotate(-45 797.9 285.1)">circRNAs</text>
<rect x="773.9" y="309.2" width="7" height="6.9" fill="#a1bb6c"/>
<text x="785.4" y="316.3" font-size="10.4">RICK</text>
<rect x="773.9" y="322.1" width="7" height="6.9" fill="#c9605a"/>
<text x="785.4" y="329.2" font-size="10.4">RICK control</text>
<rect x="773.9" y="334.5" width="7" height="6.9" fill="#1565f0"/>
<text x="785.4" y="341.6" font-size="10.4">Oligo(dT)</text>
<rect x="773.9" y="347" width="7" height="6.9" fill="#8d77b9"/>
<text x="785.4" y="354.1" font-size="10.4">Oligo(dT) control</text>
</svg></body></html>
